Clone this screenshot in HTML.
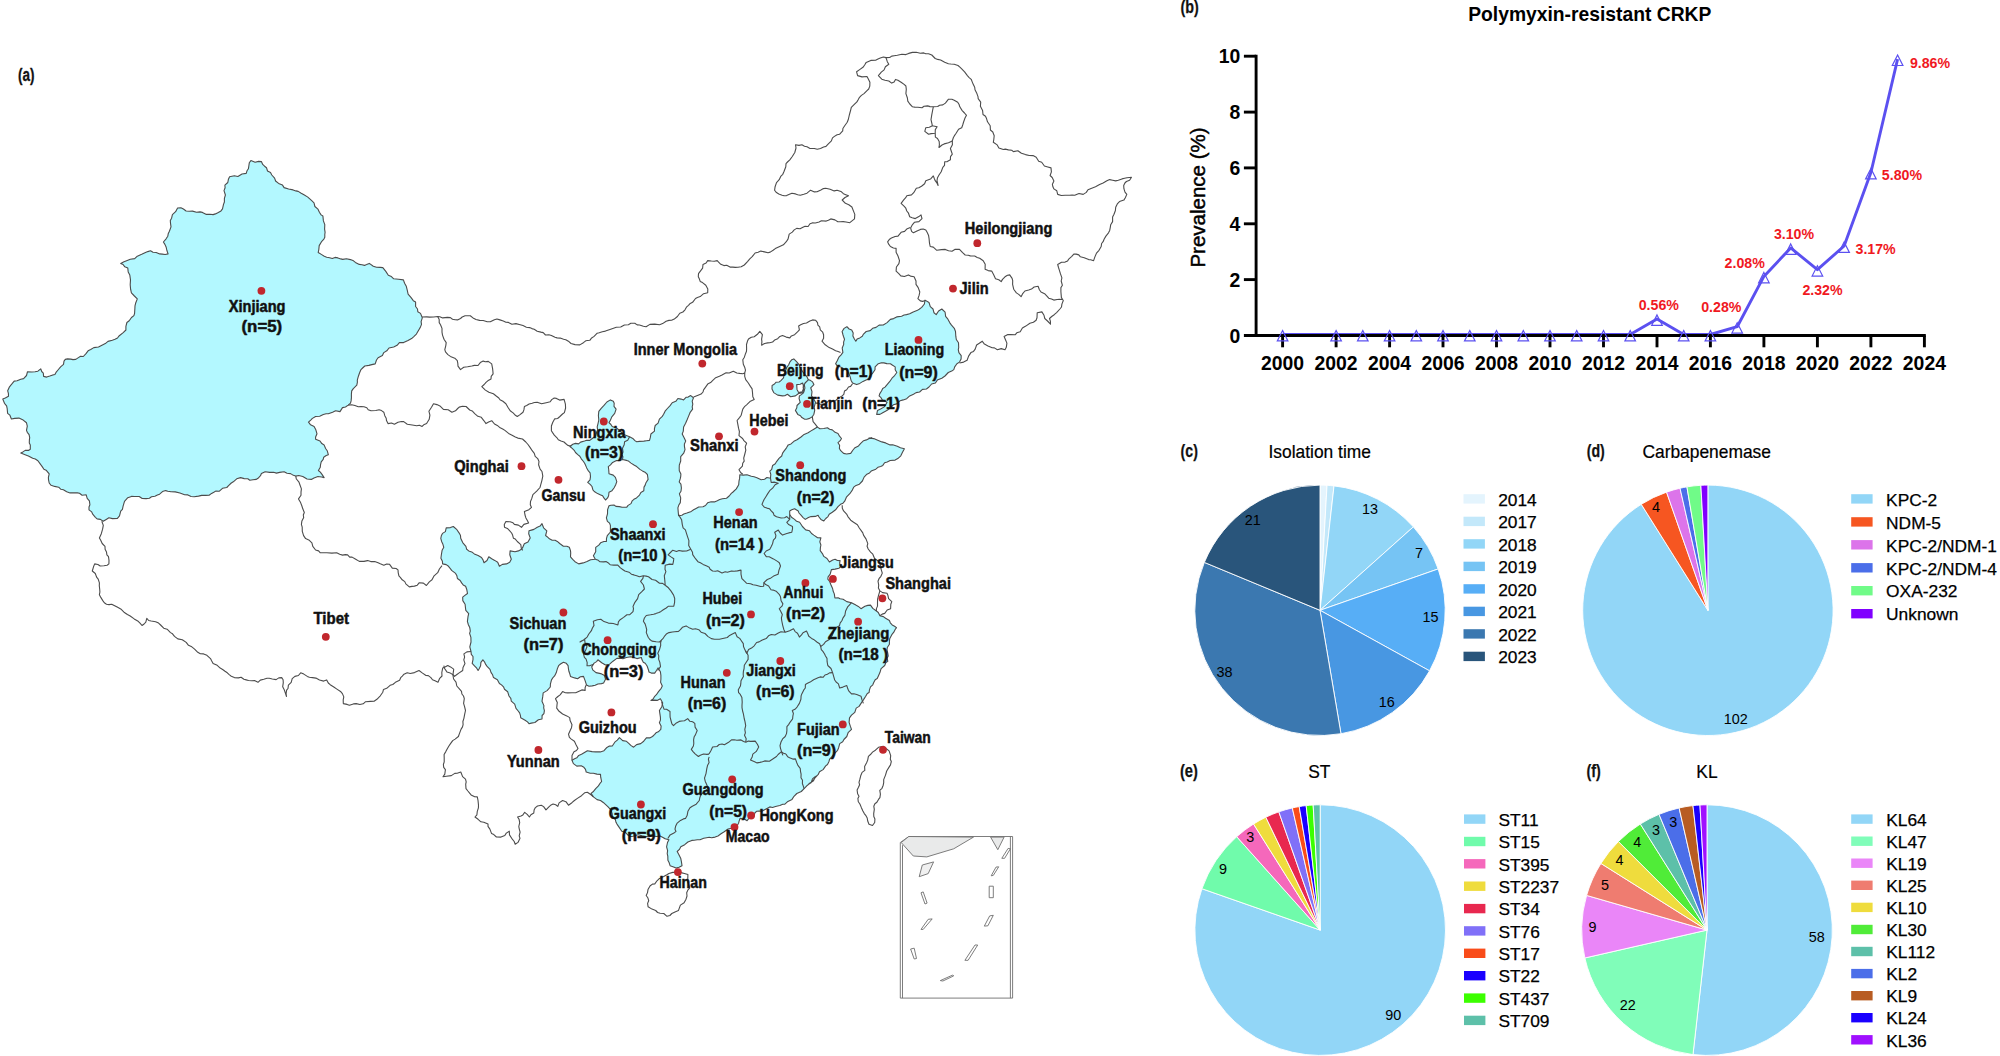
<!DOCTYPE html>
<html><head><meta charset="utf-8"><title>Polymyxin-resistant CRKP</title>
<style>html,body{margin:0;padding:0;background:#fff}svg{display:block}</style></head>
<body><svg width="2000" height="1056" viewBox="0 0 2000 1056">
<rect width="2000" height="1056" fill="#fff"/>
<g stroke="#4c4c4c" stroke-width="1.1" stroke-linejoin="round" fill="none">
<path d="M250.9 160.6 L255.1 162.2 L258.6 161.4 L261.4 161.6 L262.7 164.4 L264.6 166.2 L266.5 167.7 L267.5 171.0 L270.5 172.6 L271.8 175.0 L274.6 178.1 L275.6 181.0 L278.6 183.4 L282.5 185.1 L284.1 187.6 L288.6 189.0 L293.1 189.9 L295.9 190.9 L298.2 191.4 L301.2 193.3 L304.4 195.1 L307.8 197.1 L309.5 198.6 L311.7 200.6 L314.0 202.8 L314.9 206.5 L317.9 209.1 L319.4 212.2 L321.1 214.9 L322.9 216.0 L323.4 220.9 L324.8 224.6 L324.6 229.1 L325.1 232.3 L324.8 234.5 L324.8 237.3 L323.9 239.1 L321.8 241.3 L319.2 245.6 L318.8 249.6 L318.2 252.5 L321.7 254.6 L324.3 256.3 L326.7 257.2 L329.6 257.7 L332.3 258.5 L335.0 257.4 L337.9 257.9 L340.8 258.9 L342.7 259.4 L346.4 258.7 L350.4 259.6 L353.5 260.8 L355.4 262.4 L359.3 264.4 L362.0 264.8 L364.5 265.4 L366.6 264.6 L369.3 263.4 L373.3 266.2 L376.5 267.2 L380.1 267.4 L382.8 267.6 L385.8 271.4 L388.3 275.2 L391.4 276.6 L393.7 278.8 L398.6 279.3 L403.4 279.9 L404.6 283.3 L406.3 286.3 L407.3 290.4 L408.1 294.1 L411.1 297.7 L413.3 300.7 L415.6 302.0 L415.6 306.5 L417.5 309.0 L417.8 311.7 L420.5 313.4 L422.3 317.8 L421.1 321.6 L421.5 324.4 L420.3 327.4 L418.6 330.2 L416.4 334.1 L413.8 336.6 L411.6 338.6 L408.0 340.5 L403.6 342.6 L399.4 342.6 L397.1 345.3 L393.7 347.0 L389.0 348.0 L386.8 350.8 L383.8 352.6 L382.4 355.4 L378.1 357.7 L376.5 360.0 L375.2 363.9 L371.8 364.6 L368.9 365.4 L364.8 366.0 L362.6 368.0 L361.0 369.6 L359.6 372.7 L358.4 376.2 L357.3 380.2 L357.4 382.2 L356.8 385.2 L353.3 388.6 L351.7 390.9 L351.4 394.1 L351.4 397.9 L351.1 400.9 L350.5 403.2 L348.2 405.1 L345.5 407.0 L342.5 407.6 L340.0 411.6 L335.6 410.8 L332.6 412.2 L328.3 413.7 L326.1 413.8 L323.3 414.5 L319.7 416.2 L315.6 416.5 L312.4 418.4 L310.7 420.1 L308.5 422.2 L310.6 424.8 L314.1 426.4 L315.7 429.4 L317.0 433.8 L315.6 437.0 L315.6 439.2 L320.0 441.0 L321.8 443.6 L324.1 444.9 L325.6 448.5 L327.2 450.7 L328.4 454.8 L326.2 455.5 L323.7 457.2 L323.2 459.4 L321.2 461.9 L320.5 464.9 L320.3 467.3 L318.4 470.5 L320.3 472.1 L322.0 474.4 L324.1 477.6 L321.6 477.0 L317.9 476.5 L314.0 477.9 L311.3 479.4 L307.0 479.0 L302.8 476.5 L298.8 475.5 L295.7 476.1 L292.7 474.9 L290.5 473.6 L287.0 473.2 L284.1 471.7 L279.6 472.4 L276.5 473.1 L273.6 472.2 L269.7 472.4 L265.2 471.7 L261.4 473.5 L260.5 475.7 L258.0 478.3 L256.1 479.4 L253.0 479.7 L249.8 480.3 L247.8 478.8 L244.2 478.6 L240.6 477.6 L236.7 478.8 L233.3 481.8 L231.3 483.0 L228.8 485.4 L226.8 487.5 L222.5 488.3 L219.1 491.3 L215.7 491.1 L213.8 492.3 L211.6 493.4 L209.1 495.2 L205.6 495.4 L201.7 495.4 L198.5 496.1 L194.1 496.8 L191.1 496.5 L187.9 494.9 L184.6 494.7 L179.9 493.0 L175.2 491.9 L171.1 491.8 L167.8 491.2 L165.7 490.6 L162.5 491.6 L159.6 494.2 L157.4 495.1 L154.9 496.3 L151.5 496.8 L149.4 498.3 L146.1 498.6 L142.2 498.5 L139.2 496.5 L134.6 496.5 L131.4 496.4 L127.8 497.7 L124.5 501.3 L123.1 506.1 L122.4 509.3 L120.7 511.2 L119.5 515.9 L117.4 518.4 L112.5 518.6 L108.9 517.8 L106.6 519.2 L103.2 521.3 L100.4 519.4 L97.1 518.9 L95.4 517.3 L92.9 514.4 L91.7 511.9 L89.0 509.9 L89.0 507.0 L89.9 504.7 L89.4 500.9 L87.2 498.3 L86.2 494.8 L82.1 495.2 L79.5 493.3 L77.4 492.9 L73.7 492.8 L70.1 492.9 L66.7 491.7 L63.4 489.7 L60.9 489.3 L58.7 487.2 L54.6 486.4 L51.1 485.3 L49.2 483.0 L48.5 479.7 L48.4 477.3 L49.2 473.9 L46.1 470.2 L43.9 469.3 L42.2 466.6 L40.0 463.6 L37.9 460.7 L35.3 459.0 L32.7 458.3 L28.4 455.9 L25.1 454.7 L20.8 453.1 L22.9 451.9 L25.2 450.4 L28.4 450.4 L30.3 449.3 L30.3 445.0 L29.3 443.1 L29.4 439.8 L29.7 437.6 L29.1 434.7 L27.3 432.3 L26.5 430.4 L27.3 426.2 L26.5 422.8 L23.2 420.1 L18.9 418.1 L14.7 418.4 L11.4 419.0 L9.9 415.2 L7.6 413.3 L7.2 408.7 L6.6 405.8 L4.5 403.3 L2.8 399.1 L5.3 398.0 L8.5 396.3 L8.4 393.3 L7.7 390.8 L9.5 386.8 L11.7 384.2 L14.2 381.1 L17.1 380.8 L20.8 379.2 L23.6 378.6 L26.5 375.5 L27.5 371.7 L31.8 372.0 L35.0 371.7 L37.9 371.2 L40.7 368.8 L41.7 371.5 L43.3 373.1 L43.6 376.4 L46.7 377.1 L49.8 376.1 L52.9 374.9 L54.9 374.5 L56.0 372.4 L58.0 370.0 L60.6 366.9 L63.5 364.4 L64.0 361.1 L65.3 359.4 L67.5 358.9 L70.8 359.1 L73.0 359.6 L75.8 359.4 L78.4 357.6 L80.6 356.3 L83.3 356.5 L86.0 353.6 L88.1 350.8 L90.7 349.5 L93.8 347.6 L98.5 347.0 L102.9 344.8 L105.3 343.6 L108.0 341.4 L112.3 340.2 L115.0 339.3 L117.5 338.0 L119.3 335.7 L123.2 332.6 L125.9 330.0 L125.9 326.4 L126.9 322.5 L129.2 320.8 L131.5 317.5 L133.9 315.6 L134.6 313.3 L134.7 311.2 L134.9 308.3 L135.0 305.8 L135.6 303.3 L137.3 298.9 L134.4 296.0 L131.4 292.8 L130.6 289.2 L130.2 284.7 L130.5 279.9 L129.8 275.1 L128.2 272.0 L127.8 268.1 L124.8 266.8 L123.1 264.5 L120.7 263.4 L124.0 261.7 L126.6 260.7 L130.3 259.3 L134.7 258.6 L137.3 256.2 L141.7 254.3 L145.5 252.5 L147.8 251.6 L150.5 250.8 L153.0 252.3 L156.2 252.5 L159.7 253.9 L162.3 254.1 L165.2 254.5 L168.1 253.9 L166.9 250.5 L166.2 247.3 L164.9 244.4 L163.4 242.0 L166.1 238.8 L167.8 236.2 L168.2 233.8 L169.4 231.2 L171.0 226.9 L170.5 223.1 L170.3 220.5 L171.6 218.2 L172.4 214.6 L175.6 211.7 L177.6 208.0 L180.9 207.7 L183.4 209.0 L186.1 211.0 L189.4 211.3 L192.5 211.1 L196.5 212.3 L200.0 211.9 L202.4 212.4 L206.4 214.4 L209.8 214.2 L213.1 214.6 L215.4 213.9 L218.3 212.4 L221.0 210.9 L222.5 208.9 L223.5 204.4 L224.4 202.0 L224.4 198.4 L225.4 195.0 L224.0 190.6 L225.1 187.7 L224.9 185.2 L227.8 182.5 L228.4 179.3 L229.6 176.7 L234.3 175.8 L237.9 176.5 L242.0 174.0 L246.2 173.4 L247.0 170.8 L248.4 168.8 L248.9 165.5 L249.3 162.8 Z" fill="#b3f8ff"/>
<path d="M441.4 535.5 L442.5 533.4 L445.4 531.6 L446.2 527.9 L450.4 527.6 L453.3 526.5 L456.9 529.7 L459.2 533.1 L460.5 535.6 L460.7 538.2 L462.7 542.6 L465.9 546.4 L466.7 549.3 L468.7 550.9 L471.7 551.9 L474.3 553.9 L478.1 555.6 L481.5 557.5 L483.0 559.9 L484.0 562.7 L487.0 560.5 L488.8 556.8 L491.7 558.7 L494.7 560.4 L497.7 562.3 L499.4 566.3 L502.4 564.4 L506.5 563.9 L509.7 562.3 L511.3 559.2 L509.8 554.8 L510.1 550.9 L515.0 551.7 L518.4 550.9 L521.1 549.5 L522.6 547.7 L524.3 543.8 L528.0 542.0 L530.2 537.9 L528.7 533.7 L529.0 530.8 L531.4 530.1 L533.9 529.4 L537.3 527.2 L540.1 526.1 L542.0 523.7 L543.6 527.8 L546.8 530.8 L545.6 535.5 L547.9 537.4 L549.4 538.8 L552.2 540.3 L555.1 540.2 L557.3 541.4 L559.7 543.5 L563.4 546.2 L566.8 546.2 L569.3 547.3 L570.5 550.6 L570.7 552.9 L570.5 556.8 L572.7 559.3 L575.0 561.7 L578.7 563.9 L583.2 562.9 L587.0 561.6 L590.6 559.7 L595.3 559.2 L593.4 555.7 L595.7 551.8 L595.7 547.4 L598.8 545.1 L600.6 542.8 L603.9 541.5 L606.4 541.5 L606.5 538.3 L607.3 535.6 L610.4 532.0 L610.4 529.3 L610.4 525.4 L609.6 523.2 L607.4 521.3 L606.4 517.8 L607.5 513.9 L607.6 509.6 L609.0 505.7 L610.9 505.2 L614.0 505.0 L615.9 506.4 L619.3 506.6 L622.1 507.3 L626.8 507.1 L628.1 505.4 L631.0 503.6 L632.2 500.8 L633.9 499.3 L636.5 497.9 L639.5 495.1 L640.9 492.4 L643.8 490.8 L644.0 487.1 L645.2 485.1 L646.0 482.7 L648.1 479.4 L647.4 474.5 L645.0 472.2 L642.4 470.9 L639.9 469.4 L636.7 466.6 L634.4 465.3 L631.0 463.1 L628.5 461.1 L626.5 460.4 L622.5 459.5 L619.6 460.5 L616.5 460.6 L612.6 462.4 L610.5 464.9 L608.3 466.6 L608.7 469.5 L609.0 473.8 L613.2 475.1 L615.4 477.3 L616.8 481.6 L615.6 485.0 L614.0 488.0 L612.0 490.7 L609.0 492.2 L608.6 495.8 L607.6 497.9 L605.5 500.0 L603.9 497.9 L602.6 495.8 L600.7 494.9 L597.6 493.6 L594.3 491.5 L592.9 489.8 L592.0 486.5 L590.4 484.6 L587.7 482.3 L590.0 479.9 L590.5 476.6 L590.1 472.8 L588.4 470.9 L586.7 467.9 L584.9 463.8 L583.5 461.5 L581.3 458.8 L579.8 456.2 L577.8 454.6 L575.5 452.5 L574.2 450.3 L572.2 448.4 L569.9 446.5 L572.8 444.2 L575.5 443.4 L578.5 443.9 L580.6 442.1 L584.5 441.0 L586.7 440.3 L589.8 440.4 L592.6 438.2 L595.5 436.1 L596.7 432.0 L597.6 429.9 L597.2 426.9 L598.0 423.6 L598.8 420.0 L598.4 415.5 L598.8 411.4 L601.2 408.4 L604.0 405.4 L606.9 402.0 L610.4 399.9 L613.3 401.3 L614.2 403.3 L614.0 406.3 L616.1 409.1 L614.7 413.4 L611.8 416.9 L610.4 420.3 L609.0 422.6 L610.9 424.5 L612.2 426.5 L616.8 428.3 L620.5 431.1 L622.5 433.3 L625.0 435.1 L629.6 436.8 L632.8 438.4 L634.9 440.6 L636.7 441.8 L639.4 441.4 L643.8 441.1 L646.5 440.7 L649.5 440.4 L650.3 437.7 L650.9 434.0 L654.5 431.1 L654.4 428.8 L655.2 425.5 L658.1 423.1 L659.4 419.1 L662.3 416.4 L663.6 414.3 L665.1 411.2 L667.4 408.5 L670.1 405.6 L672.2 402.7 L675.8 401.3 L677.9 398.5 L681.1 399.1 L683.6 399.9 L686.0 397.3 L688.1 397.1 L690.7 395.6 L693.5 397.8 L692.2 401.1 L692.8 404.1 L692.2 406.8 L692.6 409.2 L690.0 412.7 L688.4 416.6 L687.1 419.8 L685.6 423.2 L683.6 426.9 L683.3 431.1 L682.2 434.0 L684.0 437.6 L685.7 441.1 L684.4 444.0 L684.4 446.2 L685.0 449.6 L683.7 453.2 L680.7 456.7 L680.7 461.0 L679.3 465.2 L679.2 468.6 L679.3 470.8 L680.9 474.0 L680.7 476.6 L680.2 478.9 L679.2 482.0 L680.9 484.1 L681.4 488.0 L681.0 491.3 L679.4 493.8 L680.7 497.9 L680.3 502.6 L678.7 505.3 L677.9 507.8 L678.2 511.6 L678.6 515.7 L681.9 515.2 L683.8 514.1 L686.9 513.1 L691.3 511.4 L693.6 509.8 L695.6 508.7 L698.7 507.0 L703.0 506.7 L705.5 505.5 L707.6 502.8 L711.1 501.7 L714.4 501.9 L717.3 500.7 L719.7 499.6 L722.4 498.7 L726.5 498.2 L729.2 496.0 L731.3 493.4 L733.0 492.0 L736.3 488.9 L738.7 484.8 L739.0 481.1 L739.6 478.4 L739.8 474.7 L743.2 475.1 L747.0 474.7 L751.3 476.3 L754.1 476.8 L756.9 477.8 L761.2 479.7 L764.6 479.2 L766.9 477.5 L770.5 478.2 L770.8 474.3 L769.8 471.1 L771.7 469.3 L772.6 465.5 L775.3 463.7 L776.4 461.8 L779.0 458.4 L781.7 456.0 L782.6 453.1 L784.0 451.2 L786.5 447.8 L788.2 444.9 L791.0 443.9 L793.9 441.3 L797.0 439.8 L801.0 437.0 L804.1 434.4 L808.1 432.8 L811.0 430.9 L813.8 429.2 L817.4 427.1 L819.9 428.7 L823.8 428.5 L827.4 427.7 L829.6 429.3 L832.3 429.9 L835.1 432.3 L838.0 433.5 L839.5 436.2 L841.5 438.5 L840.2 440.7 L838.0 442.7 L839.6 445.3 L839.4 448.4 L840.7 450.7 L843.6 453.4 L846.6 454.0 L850.7 453.4 L853.0 450.0 L855.0 447.7 L858.5 445.9 L860.7 443.4 L863.6 440.7 L866.4 439.9 L868.7 438.8 L872.0 437.8 L868.9 438.0 L873.7 438.6 L878.3 440.4 L881.9 441.9 L885.6 442.9 L887.8 443.9 L890.1 444.9 L892.7 444.8 L897.3 446.3 L900.4 447.7 L904.4 448.7 L902.5 452.2 L900.8 455.8 L897.8 458.6 L895.1 460.1 L890.2 460.5 L887.2 461.9 L884.6 462.8 L882.8 465.4 L880.7 466.4 L877.9 467.3 L875.8 469.2 L871.2 471.1 L869.5 472.9 L866.9 474.2 L864.1 477.1 L862.4 481.0 L859.4 484.2 L855.4 485.8 L853.7 487.2 L852.3 490.1 L849.8 493.7 L846.4 497.2 L844.7 501.2 L843.0 503.2 L840.5 504.3 L838.0 506.6 L835.6 509.8 L832.3 512.3 L829.2 514.3 L828.0 516.6 L825.8 518.5 L823.8 520.9 L820.9 519.4 L819.0 517.0 L818.1 515.2 L815.3 516.4 L811.0 516.6 L808.4 517.5 L805.3 519.4 L803.1 517.6 L801.0 515.2 L799.0 513.0 L798.2 510.9 L794.6 508.8 L791.7 509.8 L789.7 510.9 L789.7 514.5 L791.5 517.3 L794.6 519.4 L796.6 521.3 L799.6 522.3 L801.3 524.8 L802.4 526.5 L805.7 529.9 L809.5 530.8 L811.6 533.5 L813.8 535.1 L817.6 537.7 L820.9 537.9 L819.8 541.9 L820.9 545.0 L820.4 547.5 L820.2 550.7 L822.4 553.6 L823.8 556.4 L827.0 558.5 L829.4 562.0 L832.7 560.0 L835.1 559.2 L837.4 560.5 L840.1 560.6 L839.6 563.1 L840.8 566.3 L838.9 568.3 L835.1 569.1 L831.4 569.6 L830.2 574.2 L828.1 576.8 L827.8 579.1 L829.7 581.5 L830.7 584.3 L832.6 588.5 L833.1 591.0 L834.3 593.9 L834.9 598.0 L838.1 597.8 L840.1 598.8 L843.1 599.3 L846.8 601.6 L851.5 602.7 L855.8 605.1 L858.3 606.4 L861.0 608.7 L864.9 606.3 L867.8 605.4 L870.5 605.1 L872.8 608.4 L876.4 611.0 L878.3 612.5 L879.9 615.8 L883.4 616.6 L885.6 618.3 L889.4 620.5 L890.3 622.8 L892.2 624.9 L894.6 626.2 L896.5 627.6 L895.0 629.7 L893.8 632.2 L891.8 634.7 L889.7 638.8 L889.4 641.6 L889.4 644.2 L887.3 647.5 L887.0 650.0 L887.7 652.9 L888.2 656.0 L887.2 658.1 L887.8 661.3 L885.9 662.6 L884.7 665.5 L881.1 668.7 L879.9 672.6 L878.5 675.7 L877.2 678.5 L875.2 679.7 L873.6 682.8 L872.8 684.8 L870.5 686.8 L869.4 690.2 L869.1 692.5 L867.3 693.5 L865.7 696.2 L863.7 699.4 L861.0 703.4 L859.1 706.4 L856.2 708.1 L854.8 712.3 L851.5 715.2 L849.5 717.9 L849.1 722.3 L850.4 726.4 L851.5 729.4 L848.1 732.7 L846.8 736.5 L843.9 739.5 L842.7 741.7 L839.7 743.6 L838.6 747.9 L837.6 750.3 L834.9 753.1 L831.8 756.8 L829.6 759.1 L829.0 761.4 L827.5 764.5 L825.7 765.9 L823.1 769.6 L819.5 771.8 L818.1 774.7 L816.0 776.7 L813.1 780.5 L811.2 782.2 L808.9 783.8 L811.6 782.1 L813.5 780.8 L814.8 778.1 L816.9 775.8 L814.8 776.9 L812.5 778.9 L811.0 782.9 L809.3 783.9 L806.8 785.8 L803.9 788.8 L801.3 791.5 L796.8 793.5 L794.0 796.3 L792.0 799.4 L787.9 801.4 L784.9 804.2 L782.8 804.3 L779.8 805.5 L775.5 806.5 L772.5 807.5 L769.8 806.9 L766.0 808.9 L762.2 811.1 L759.2 811.1 L756.5 811.3 L754.8 813.0 L754.2 816.0 L751.9 817.3 L749.2 818.0 L747.1 820.7 L744.3 819.0 L740.0 818.4 L739.1 821.2 L738.6 823.2 L736.4 826.7 L732.5 828.0 L728.1 829.0 L724.2 831.8 L721.0 833.8 L718.0 836.0 L715.1 837.1 L711.6 837.8 L709.2 837.3 L706.6 837.7 L703.7 838.3 L700.0 839.7 L697.3 839.7 L694.2 840.2 L691.8 840.4 L687.9 842.0 L684.7 844.7 L680.8 846.8 L679.4 849.4 L677.2 851.5 L678.8 854.5 L680.8 858.6 L681.4 861.6 L682.0 865.7 L679.0 867.3 L676.0 868.1 L673.6 866.9 L670.1 865.7 L669.2 862.8 L667.9 860.3 L667.8 856.2 L667.2 853.7 L667.6 850.6 L666.6 846.8 L667.5 842.5 L668.9 839.7 L664.2 838.5 L664.4 838.3 L660.1 836.0 L656.9 836.5 L652.5 836.0 L648.9 836.6 L645.9 836.6 L642.2 835.9 L638.3 834.8 L636.1 835.2 L633.1 836.2 L630.6 836.5 L628.2 835.3 L625.4 832.3 L621.8 831.2 L619.2 827.4 L617.0 824.1 L616.0 822.3 L615.3 819.4 L612.3 817.0 L612.2 813.9 L610.9 809.9 L607.6 806.4 L605.4 804.3 L603.6 802.7 L600.5 800.5 L597.1 799.6 L593.4 796.9 L591.0 793.4 L593.1 791.8 L595.7 788.6 L598.4 785.9 L599.8 783.7 L601.6 781.5 L600.7 777.2 L600.5 774.4 L596.9 774.1 L593.4 773.2 L590.2 773.3 L586.2 772.0 L585.5 769.4 L583.9 767.3 L581.2 765.8 L576.8 766.1 L573.4 763.6 L572.0 760.2 L574.6 758.7 L576.8 757.8 L578.7 755.4 L581.5 754.3 L584.5 752.5 L587.4 750.7 L592.1 751.6 L595.7 751.9 L600.3 751.9 L604.0 750.7 L606.9 747.4 L609.4 746.1 L612.3 746.0 L614.8 742.2 L617.3 740.1 L619.4 737.7 L622.7 740.6 L626.5 741.3 L629.3 743.8 L630.8 745.4 L633.6 747.2 L636.6 744.6 L640.7 743.6 L643.7 741.2 L646.6 737.7 L649.7 737.9 L652.5 736.5 L654.7 734.4 L656.0 732.8 L658.3 731.8 L660.8 729.4 L661.1 726.1 L659.4 722.8 L660.5 719.9 L660.4 717.1 L659.8 713.2 L659.4 710.5 L661.8 706.7 L662.7 702.9 L660.4 698.7 L657.1 700.4 L654.7 700.1 L650.9 700.5 L653.1 699.0 L654.7 696.3 L656.4 694.7 L658.5 691.6 L661.2 688.3 L662.3 685.9 L660.6 682.2 L660.9 679.2 L660.9 675.4 L660.4 671.7 L658.0 667.9 L656.5 670.5 L654.7 673.1 L651.3 673.1 L649.0 672.1 L648.4 669.7 L647.1 666.0 L645.2 663.3 L643.3 662.2 L642.0 659.8 L641.4 657.5 L636.9 658.6 L633.9 657.5 L630.6 656.8 L626.3 657.5 L623.0 658.7 L620.7 658.3 L616.8 658.4 L613.0 661.2 L609.6 664.2 L605.5 665.0 L601.7 662.7 L597.9 659.8 L596.6 661.6 L594.1 663.1 L591.7 666.9 L592.7 669.8 L596.0 672.6 L600.7 673.6 L604.5 675.5 L605.5 679.2 L603.6 683.0 L601.5 683.6 L597.9 684.0 L595.2 685.3 L592.2 685.9 L589.0 686.2 L586.5 684.9 L585.1 680.6 L583.5 676.4 L580.4 676.7 L577.6 678.7 L574.6 677.9 L570.5 676.4 L569.6 673.2 L568.9 671.3 L568.4 668.5 L568.1 665.7 L566.3 663.3 L563.4 662.2 L560.5 664.0 L558.6 665.7 L557.4 668.6 L556.2 672.8 L554.6 675.9 L553.2 677.3 L551.5 679.9 L550.4 684.2 L550.3 687.0 L547.1 690.6 L543.2 692.9 L542.7 696.9 L542.0 701.2 L543.9 705.6 L543.7 707.8 L544.4 710.7 L543.9 713.6 L542.1 715.5 L542.0 719.0 L538.4 719.8 L534.9 722.5 L531.3 723.1 L529.0 723.7 L527.5 721.9 L525.1 720.2 L520.7 717.8 L520.4 715.3 L519.6 712.8 L517.8 710.5 L516.0 708.3 L514.7 704.1 L511.3 701.2 L510.8 698.3 L509.0 696.0 L507.7 691.8 L504.5 689.2 L503.5 686.8 L501.5 684.9 L499.4 683.5 L497.4 679.7 L493.5 677.6 L492.6 674.8 L491.1 672.6 L490.0 669.3 L487.3 666.7 L485.7 664.4 L484.8 662.4 L482.9 659.8 L480.9 662.4 L480.6 665.7 L479.3 668.5 L478.1 670.5 L476.7 668.2 L474.7 666.1 L472.2 663.4 L473.0 659.7 L473.0 656.5 L471.3 654.4 L471.0 651.5 L469.8 646.9 L471.0 642.0 L470.9 637.4 L469.6 633.4 L470.3 631.1 L469.8 627.8 L468.3 624.5 L467.4 621.4 L468.0 616.7 L468.7 613.6 L465.8 610.4 L465.5 608.0 L465.1 604.2 L462.8 600.6 L462.7 597.1 L464.9 595.4 L467.5 593.5 L466.7 589.2 L465.6 586.3 L463.2 584.9 L461.6 582.9 L460.2 580.5 L457.4 578.5 L456.9 575.8 L455.6 573.4 L451.6 570.4 L450.1 568.3 L448.5 566.3 L446.2 564.6 L442.6 563.9 L442.4 561.2 L440.9 558.2 L441.4 554.5 L442.1 550.3 L443.8 547.3 L442.7 543.7 L441.6 541.4 L440.8 538.4 Z" fill="#b3f8ff"/>
<path d="M835.6 363.7 L837.1 360.9 L838.9 357.2 L840.9 355.1 L842.9 352.4 L842.2 348.0 L843.7 344.4 L843.6 342.1 L844.5 339.3 L843.5 336.5 L842.9 334.5 L842.1 331.5 L844.1 328.4 L846.9 326.7 L849.1 329.0 L851.7 329.9 L853.2 333.0 L852.9 335.9 L854.4 339.0 L855.8 341.2 L857.1 339.1 L859.8 337.9 L862.3 336.2 L863.5 334.1 L866.2 331.5 L870.2 330.6 L872.6 328.3 L876.0 327.4 L879.1 325.1 L883.3 325.0 L887.1 322.6 L890.4 319.4 L893.6 318.6 L896.7 316.9 L901.6 316.2 L904.1 315.0 L906.5 314.6 L909.7 313.8 L913.2 311.9 L916.9 310.6 L919.2 309.2 L921.7 307.4 L924.4 304.0 L925.0 300.1 L929.0 302.5 L930.3 306.6 L933.0 309.0 L934.0 312.8 L936.2 314.6 L938.6 311.0 L941.8 309.0 L945.1 312.2 L945.6 316.3 L947.5 318.6 L949.7 322.6 L951.5 325.1 L954.3 328.3 L955.5 331.5 L955.8 336.2 L956.3 339.5 L958.5 342.8 L958.7 347.6 L958.3 349.7 L958.9 352.7 L961.2 355.6 L961.1 358.9 L959.5 362.1 L956.9 363.8 L954.7 366.9 L953.8 369.6 L951.7 371.1 L948.3 372.5 L945.0 376.0 L941.8 378.2 L937.3 380.1 L935.4 383.0 L931.6 384.0 L929.0 387.0 L926.4 389.0 L922.5 389.4 L919.6 392.0 L916.1 392.6 L913.5 394.2 L909.7 395.9 L906.7 398.7 L903.2 399.9 L900.2 400.7 L896.8 403.9 L893.3 404.8 L890.4 407.9 L887.6 410.1 L885.5 411.2 L882.7 412.7 L879.9 414.4 L876.7 414.4 L877.5 410.4 L881.0 408.8 L883.9 407.1 L885.7 404.8 L887.1 402.3 L884.2 400.8 L882.3 399.9 L881.0 397.7 L879.1 395.9 L879.8 393.6 L881.5 391.0 L882.7 388.5 L885.0 387.1 L887.1 384.6 L889.6 381.7 L892.0 378.2 L894.1 376.2 L896.8 372.5 L895.2 369.7 L895.2 366.9 L892.6 365.3 L890.4 363.7 L886.8 363.6 L883.9 362.9 L880.8 362.9 L878.3 363.7 L875.1 366.9 L875.0 369.7 L872.6 373.3 L870.1 375.5 L869.4 378.2 L866.6 379.7 L863.0 381.4 L859.8 383.4 L856.6 384.6 L852.5 383.0 L851.0 380.2 L850.1 376.6 L848.8 373.5 L846.9 370.1 L843.9 368.9 L840.5 366.9 L837.2 365.8 Z" fill="#b3f8ff"/>
<path d="M806.7 379.0 L810.7 380.6 L812.6 381.9 L813.9 384.6 L810.7 387.8 L812.0 391.6 L811.5 395.9 L813.3 398.3 L815.5 402.3 L814.2 407.1 L814.7 410.4 L813.9 414.2 L812.3 416.8 L809.6 418.4 L806.7 419.2 L804.4 419.1 L801.8 417.6 L800.5 415.7 L797.8 414.4 L795.4 410.4 L796.8 407.7 L797.0 405.5 L800.2 402.3 L799.1 398.7 L799.4 395.9 L801.4 394.6 L803.5 392.6 L804.9 388.2 L804.3 384.6 L805.0 381.0 Z" fill="#b3f8ff"/>
<path d="M772.1 385.4 L774.5 384.0 L776.1 382.2 L779.1 382.0 L780.9 380.6 L783.5 377.9 L784.1 374.9 L785.0 372.1 L786.6 367.7 L788.8 364.5 L789.8 362.1 L791.8 359.7 L793.8 358.9 L797.0 362.1 L799.0 364.6 L800.2 367.7 L802.5 371.5 L805.1 374.9 L806.8 376.5 L808.3 379.8 L805.1 383.0 L803.1 387.1 L803.9 390.1 L803.5 392.6 L798.6 393.5 L795.4 395.9 L790.6 396.7 L787.4 394.3 L784.8 395.8 L782.5 395.9 L777.7 395.1 L773.7 392.6 L772.0 389.0 Z M796.7 384.6 L800.2 384.3 L802.6 383.0 L803.5 386.2 L803.3 389.1 L802.2 391.8 L798.6 392.6 L797.0 389.4 Z" fill="#b3f8ff" fill-rule="evenodd"/>
<path d="M101.8 521.3 L103.3 525.4 L102.6 529.2 L101.3 533.7 L99.4 537.9 L100.6 540.0 L102.2 543.5 L105.0 546.4 L105.1 549.3 L106.5 552.1 L106.9 554.8 L108.5 556.7 L109.0 560.4 L108.9 563.9 L107.1 565.3 L103.9 565.7 L100.2 566.0 L97.9 564.5 L94.7 563.9 L93.5 566.8 L92.3 571.0 L95.3 573.5 L96.6 577.1 L98.2 579.1 L99.4 582.9 L99.3 585.8 L99.7 589.3 L99.9 592.0 L99.4 594.7 L100.8 597.4 L102.8 600.6 L104.3 602.8 L106.5 604.2 L109.0 604.6 L111.7 604.2 L114.7 605.8 L117.2 607.1 L120.7 608.9 L124.0 612.2 L127.4 614.5 L130.2 616.0 L134.2 618.9 L137.7 620.9 L140.0 623.2 L142.0 625.5 L144.1 624.0 L145.8 622.1 L146.8 618.4 L148.7 620.5 L151.2 621.0 L155.6 621.7 L158.6 623.1 L160.6 625.0 L163.7 628.2 L167.1 629.2 L170.5 632.6 L172.5 633.8 L174.5 636.4 L177.8 638.9 L182.3 639.7 L186.2 642.4 L188.5 645.3 L191.8 646.8 L194.6 649.1 L197.8 652.3 L200.3 653.7 L203.6 653.9 L206.9 655.3 L210.5 658.6 L211.6 660.7 L213.1 663.4 L217.2 665.3 L220.2 668.1 L223.0 669.7 L225.0 671.2 L227.3 672.8 L229.2 674.6 L231.3 676.2 L234.4 677.6 L238.4 677.9 L241.1 677.2 L243.9 679.3 L246.2 679.9 L248.5 680.5 L251.9 680.7 L254.5 680.5 L258.0 682.3 L260.3 680.1 L263.8 679.3 L267.0 678.3 L269.2 678.3 L272.3 679.0 L276.1 679.6 L278.8 677.9 L281.7 677.6 L283.1 679.8 L283.3 682.7 L282.7 686.7 L284.1 689.4 L285.3 692.9 L286.5 696.5 L286.1 693.6 L286.6 690.2 L288.0 688.5 L288.4 685.1 L291.2 682.3 L292.2 678.7 L294.9 676.4 L298.4 675.5 L300.7 672.8 L303.8 674.1 L307.3 676.4 L309.4 677.3 L312.5 677.6 L315.9 678.1 L319.5 680.0 L323.7 681.1 L326.7 679.9 L328.3 683.0 L330.2 684.7 L333.8 687.0 L336.9 689.1 L340.9 691.8 L342.4 693.6 L343.8 696.9 L343.2 699.8 L343.3 703.6 L347.1 704.4 L349.4 705.3 L353.4 703.9 L356.2 703.6 L359.8 704.5 L363.2 703.8 L365.6 701.7 L370.5 701.4 L374.1 701.2 L376.9 699.3 L380.3 695.8 L382.8 692.2 L383.5 689.4 L386.7 688.3 L390.1 685.3 L392.8 684.5 L395.4 682.3 L399.6 680.3 L400.7 677.7 L402.3 676.1 L404.0 674.2 L407.2 672.8 L410.2 673.5 L414.5 672.6 L419.0 670.5 L422.2 672.9 L426.0 675.5 L428.3 675.6 L430.9 677.6 L432.5 679.8 L435.0 680.8 L438.0 682.3 L439.7 678.3 L442.0 676.0 L441.8 672.5 L442.7 668.1 L445.0 667.1 L447.8 665.5 L450.5 666.9 L453.7 669.1 L453.4 671.7 L452.9 674.8 L453.6 679.0 L456.0 682.1 L456.8 686.0 L459.6 689.2 L461.5 691.3 L461.9 694.0 L463.5 696.0 L464.3 698.7 L463.6 703.3 L464.5 706.3 L465.5 710.5 L464.7 714.1 L463.9 718.3 L462.9 721.5 L463.1 724.7 L462.5 726.9 L461.0 729.4 L459.5 733.4 L458.4 736.5 L455.1 739.1 L452.7 740.6 L450.7 743.4 L448.9 746.0 L447.3 748.7 L445.8 751.6 L444.1 754.5 L444.2 757.8 L444.2 761.9 L443.4 764.5 L443.7 767.4 L445.4 769.7 L444.8 774.1 L443.0 776.8 L446.4 776.2 L451.3 775.6 L454.8 773.4 L457.2 773.2 L460.8 772.0 L462.6 776.6 L465.5 779.1 L466.2 781.8 L465.7 784.2 L466.0 788.6 L467.9 791.0 L469.4 792.8 L471.1 794.9 L474.7 796.8 L477.3 796.9 L478.0 800.3 L478.5 805.2 L478.4 807.9 L477.3 811.3 L476.9 814.8 L475.0 817.0 L478.1 819.3 L480.9 821.8 L483.8 822.3 L488.0 824.1 L488.0 826.4 L489.9 829.1 L491.6 833.6 L493.8 834.6 L496.4 837.0 L501.0 837.1 L504.8 835.5 L506.3 833.1 L509.3 831.2 L509.5 834.9 L511.7 838.3 L514.2 841.5 L515.2 844.3 L518.0 842.4 L520.0 838.3 L519.2 835.8 L520.1 832.1 L519.3 829.1 L518.8 826.5 L519.7 822.6 L519.1 819.4 L517.6 817.0 L521.0 815.9 L522.9 814.9 L524.7 812.3 L527.2 814.4 L529.4 817.0 L530.9 814.7 L533.8 813.0 L534.1 810.1 L535.4 807.6 L537.5 806.0 L541.3 805.2 L543.6 806.6 L546.0 809.9 L548.9 806.8 L551.1 804.9 L553.1 804.0 L555.7 804.7 L557.8 806.4 L559.1 802.9 L562.6 800.5 L565.9 801.7 L568.5 805.2 L571.9 802.7 L574.4 800.5 L577.4 798.4 L581.5 795.7 L584.6 792.8 L587.4 792.2 L591.0 794.8 L593.4 796.9"/>
<path d="M443.8 665.7 L444.6 668.5 L446.9 671.9 L450.3 673.1 L453.2 674.8 L454.5 676.4 L456.6 674.8 L458.8 673.1 L462.7 670.5 L463.0 667.5 L465.0 663.6 L463.8 659.9 L464.6 657.1 L463.9 653.9 L466.9 651.9 L471.0 651.5"/>
<path d="M295.7 476.1 L296.4 479.0 L299.0 482.2 L299.9 484.7 L301.4 488.9 L301.0 492.1 L301.0 495.2 L298.5 498.9 L300.6 502.6 L301.9 506.0 L302.8 508.8 L304.3 512.5 L303.3 515.0 L303.7 517.6 L301.9 520.9 L301.4 524.4 L302.2 527.2 L302.3 531.4 L303.6 535.6 L305.6 538.6 L308.8 539.9 L311.9 542.8 L312.8 546.4 L315.6 550.0 L318.6 550.9 L320.1 552.6 L323.3 552.7 L326.9 552.8 L331.9 553.1 L336.7 552.8 L339.7 554.3 L342.6 555.1 L345.3 554.6 L347.6 554.9 L349.7 557.1 L352.1 557.1 L355.3 559.0 L359.3 561.4 L363.9 561.4 L367.6 560.6 L370.8 561.6 L374.7 561.5 L378.1 562.8 L380.3 563.8 L383.8 565.2 L386.7 564.0 L389.4 564.2 L392.3 568.1 L396.1 568.5 L398.0 569.9 L398.2 572.6 L398.9 575.9 L400.3 577.3 L402.2 579.8 L404.8 581.6 L405.8 583.9 L409.3 586.9 L412.0 586.4 L414.4 586.1 L417.3 585.2 L419.3 582.7 L423.4 583.1 L426.4 585.5 L429.3 581.9 L432.0 579.8 L434.1 575.8 L437.7 572.7 L439.4 569.0 L442.0 565.6"/>
<path d="M348.2 405.1 L351.7 404.7 L354.9 405.5 L358.3 406.7 L361.0 406.5 L364.0 406.8 L366.8 407.7 L368.2 409.7 L371.0 410.8 L375.8 410.5 L379.1 409.8 L381.5 410.6 L383.8 412.2 L384.8 415.7 L386.2 418.3 L386.5 420.6 L388.0 423.6 L391.5 423.0 L394.4 424.2 L398.0 422.2 L401.4 421.5 L403.7 421.6 L407.3 424.3 L412.2 425.0 L416.7 425.8 L419.4 425.3 L422.1 426.4 L423.7 424.8 L426.6 423.5 L429.2 419.3 L429.9 415.2 L428.9 411.2 L431.5 407.2 L433.5 403.7 L436.9 404.6 L439.9 405.9 L443.4 409.4 L448.2 409.8 L451.9 412.2 L455.5 410.8 L457.7 408.5 L459.2 407.1 L462.5 406.3 L466.1 406.5 L469.7 410.0 L472.2 410.9 L474.7 413.6 L477.9 416.3 L481.3 417.3 L484.0 420.8 L486.0 423.6 L488.6 422.1 L491.7 420.7 L494.5 424.0 L497.3 425.4 L500.2 427.8 L502.7 429.0 L504.9 430.4 L508.6 433.4 L511.6 434.9 L515.3 436.9 L517.8 438.1 L522.5 439.0 L525.8 442.0 L528.0 444.5 L530.2 447.6 L532.2 450.7 L534.3 453.4 L535.2 456.4 L537.7 458.6 L539.0 461.4 L538.6 464.8 L540.1 469.1 L542.0 471.5 L542.8 476.1 L541.8 480.8 L540.7 484.9 L540.0 487.5 L536.7 491.1 L534.8 492.9 L532.9 494.6 L531.8 498.4 L530.5 501.5 L530.3 504.8 L531.5 507.4 L528.9 509.7 L524.4 511.6 L525.0 515.0 L525.9 517.9 L527.5 520.8 L528.6 523.0 L523.9 524.4 L521.5 527.3 L518.4 525.1 L514.4 524.4 L513.0 522.8 L510.1 521.8 L505.9 521.6 L504.3 524.6 L504.5 527.3 L507.4 528.4 L509.3 530.3 L511.6 533.0 L512.6 535.1 L513.4 538.2 L515.3 539.1 L517.3 541.5 L520.8 544.6 L521.3 548.4 L522.7 550.3"/>
<path d="M422.1 317.0 L426.7 316.9 L429.7 317.1 L433.7 317.0 L437.7 316.5 L439.8 316.7 L442.7 317.9 L447.4 317.4 L450.4 317.6 L452.5 319.2 L455.2 319.8 L457.5 319.9 L460.5 318.5 L462.2 317.0 L465.1 315.8 L467.1 315.7 L470.3 315.8 L473.0 317.9 L476.0 319.5 L479.6 320.4 L483.2 320.5 L487.2 321.7 L490.3 321.8 L494.4 319.7 L496.9 319.0 L499.9 319.9 L503.3 321.0 L505.9 322.2 L508.4 322.4 L511.9 324.2 L516.0 323.6 L520.2 324.7 L523.0 325.6 L526.4 327.2 L529.6 327.6 L531.9 328.6 L534.2 329.3 L537.2 331.2 L540.9 332.1 L543.2 332.6 L545.5 335.0 L548.9 334.7 L551.4 335.5 L555.0 337.3 L557.1 337.9 L560.2 338.1 L563.6 339.2 L565.8 339.7 L568.4 341.2 L571.0 343.5 L575.0 344.6 L579.8 344.9 L583.4 342.7 L585.7 340.8 L589.8 340.3 L591.3 338.3 L594.1 336.4 L597.2 333.2 L599.2 332.8 L602.3 331.8 L605.4 331.1 L609.2 329.7 L613.5 328.2 L616.3 327.3 L620.7 327.0 L624.4 325.0 L628.4 324.7 L630.8 323.3 L634.8 323.2 L637.2 324.9 L639.5 325.0 L643.4 326.3 L646.1 326.8 L649.9 324.4 L654.7 324.1 L659.6 324.7 L662.6 323.6 L666.1 321.2 L668.9 320.4 L671.6 320.3 L674.3 319.1 L677.4 316.5 L679.8 313.2 L682.9 312.0 L685.0 309.8 L686.7 306.8 L688.5 305.3 L689.8 303.8 L692.6 302.3 L695.5 298.5 L697.4 297.5 L700.2 296.6 L703.6 293.7 L707.7 292.8 L707.8 289.0 L705.8 285.2 L702.5 282.6 L700.2 281.4 L699.3 278.8 L698.3 276.7 L698.5 273.6 L701.1 270.1 L702.6 268.2 L703.0 264.4 L706.1 263.0 L707.7 260.6 L711.4 261.0 L714.3 261.2 L717.2 260.6 L718.6 262.1 L720.8 264.3 L723.9 265.6 L726.7 265.3 L730.0 267.1 L732.9 267.1 L735.2 267.4 L738.0 267.2 L741.2 266.7 L744.3 265.0 L747.5 261.6 L749.8 258.8 L752.2 256.7 L755.1 253.0 L758.1 252.2 L760.8 251.1 L764.5 251.9 L768.0 252.7 L770.2 252.1 L773.1 250.3 L775.3 248.6 L779.7 246.4 L783.4 244.8 L786.3 241.7 L788.1 238.9 L789.2 234.1 L792.3 232.1 L794.2 229.9 L796.7 228.4 L800.1 228.7 L802.9 227.3 L805.1 226.2 L808.1 226.5 L810.0 223.7 L812.2 222.9 L815.3 223.0 L819.1 222.0 L821.4 220.8 L826.2 221.1 L828.4 220.3 L830.8 218.9 L834.9 219.9 L837.8 221.7 L840.3 221.8 L843.2 221.6 L846.0 222.0 L849.8 222.7 L851.7 221.1 L854.5 218.9 L854.8 214.4 L853.6 211.4 L851.9 207.0 L848.8 204.7 L845.4 203.3 L842.2 200.0 L845.0 197.5 L848.5 195.8 L845.8 194.7 L843.4 193.7 L840.9 191.4 L837.1 190.2 L834.2 190.9 L830.1 189.2 L825.8 188.3 L823.4 188.6 L820.9 189.9 L817.1 191.7 L814.4 191.9 L810.6 190.2 L807.0 193.2 L803.8 194.3 L800.3 195.3 L797.7 194.7 L795.5 193.9 L791.9 193.3 L789.4 194.3 L786.6 195.6 L784.1 195.8 L782.1 195.2 L778.8 194.0 L776.1 192.3 L774.6 190.2 L775.1 186.7 L776.5 182.6 L779.2 179.7 L780.7 176.4 L782.8 174.3 L784.1 171.2 L785.8 166.8 L786.0 163.6 L787.5 162.0 L789.8 159.8 L792.3 156.5 L794.8 152.5 L796.0 148.0 L795.5 144.7 L799.0 145.4 L801.9 144.7 L804.5 146.2 L807.0 146.8 L810.0 148.5 L814.4 148.5 L817.2 149.3 L820.5 148.5 L823.6 147.0 L826.0 146.4 L828.1 144.1 L831.4 140.9 L832.5 137.9 L834.4 136.4 L837.1 134.7 L839.5 134.3 L842.7 130.9 L842.9 128.5 L844.7 125.8 L847.2 122.3 L848.3 119.5 L849.3 115.2 L850.0 112.5 L850.6 110.3 L851.3 107.4 L853.8 104.9 L856.9 101.9 L858.3 99.5 L859.5 97.3 L861.4 95.4 L864.0 93.6 L867.0 90.7 L868.7 89.0 L869.8 86.1 L869.9 82.2 L868.2 78.7 L867.0 76.5 L862.0 76.9 L857.6 75.6 L856.6 71.8 L860.0 69.4 L863.3 67.0 L865.1 64.2 L866.2 62.4 L870.8 60.4 L875.6 60.2 L878.0 59.0 L880.3 58.0 L883.4 57.0 L886.0 57.6 L889.7 57.5 L891.7 56.1 L894.2 55.7 L897.3 55.3 L901.9 54.3 L905.9 54.6 L908.7 53.4 L912.4 52.4 L916.3 52.3 L920.3 53.3 L923.7 52.9 L925.8 53.8 L928.5 53.8 L931.8 55.0 L935.2 58.5 L937.7 59.4 L940.6 60.0 L944.7 62.3 L948.4 63.8 L950.8 64.0 L954.2 64.2 L958.0 65.5 L959.9 67.2 L961.7 68.9 L964.6 71.9 L967.4 75.6 L968.9 77.3 L971.2 79.3 L972.2 81.9 L973.1 84.1 L974.7 87.3 L975.0 89.8 L976.9 93.6 L978.0 96.6 L978.2 98.7 L980.7 102.1 L980.4 106.2 L982.6 110.6 L983.0 114.5 L985.5 116.3 L986.4 118.2 L987.5 121.8 L990.2 125.8 L990.4 130.0 L992.8 132.0 L994.2 135.7 L993.8 139.5 L993.3 142.3 L997.2 144.9 L998.9 148.0 L1003.3 149.5 L1005.3 149.1 L1008.4 149.9 L1011.7 150.3 L1013.4 151.6 L1017.9 150.8 L1021.4 153.3 L1025.5 154.6 L1029.2 155.5 L1033.0 155.6 L1036.2 157.2 L1038.7 161.2 L1041.7 162.3 L1044.4 166.0 L1047.8 167.0 L1051.0 167.9 L1051.4 171.9 L1050.1 175.5 L1052.2 177.5 L1053.9 181.1 L1052.4 184.3 L1052.9 186.8 L1053.9 188.9 L1056.8 190.8 L1057.7 194.4 L1061.3 195.5 L1065.2 195.3 L1069.6 195.2 L1072.1 195.1 L1074.7 195.3 L1079.0 193.5 L1083.2 194.4 L1086.3 192.4 L1088.0 189.7 L1091.1 188.4 L1095.5 186.8 L1099.6 184.5 L1103.1 183.0 L1106.9 180.8 L1109.7 179.6 L1112.6 180.2 L1115.7 180.9 L1118.3 180.3 L1122.0 178.9 L1124.6 178.3 L1127.0 177.8 L1131.5 177.3 L1129.6 180.2 L1126.4 181.5 L1124.9 183.0 L1123.7 185.4 L1123.9 188.7 L1125.0 192.1 L1126.8 194.4 L1125.3 197.8 L1123.9 200.1 L1119.5 201.6 L1117.3 203.9 L1115.7 207.3 L1115.4 210.5 L1114.0 214.3 L1112.6 217.1 L1112.6 221.6 L1110.7 224.7 L1110.3 227.3 L1109.7 230.4 L1108.5 232.8 L1105.9 236.1 L1104.2 239.0 L1103.1 241.7 L1101.6 243.5 L1101.2 246.5 L1099.0 250.3 L1096.5 253.1 L1094.8 257.1 L1093.6 260.7 L1090.6 259.8 L1088.7 259.6 L1084.2 257.8 L1080.4 256.8 L1078.8 254.9 L1076.2 254.1 L1073.8 254.1 L1071.8 256.3 L1069.0 258.8 L1067.6 260.9 L1065.1 262.1 L1061.5 262.2 L1057.7 264.5 L1058.5 267.5 L1059.1 269.3 L1060.5 273.9 L1061.9 277.9 L1061.2 281.0 L1062.4 285.3 L1060.9 287.6 L1060.9 291.7 L1061.1 294.1 L1061.4 297.6 L1063.3 300.5 L1061.9 304.1 L1061.5 307.0 L1059.9 309.0 L1056.6 312.6 L1054.2 314.7 L1051.7 316.5 L1049.5 318.5 L1050.4 321.1 L1050.5 324.2 L1047.5 321.0 L1044.8 318.5 L1044.0 315.3 L1041.9 311.9 L1037.2 312.8 L1037.0 317.7 L1036.1 320.2 L1033.4 322.3 L1029.9 323.3 L1025.8 326.1 L1022.4 328.0 L1020.2 331.7 L1016.8 332.8 L1015.3 334.7 L1010.7 334.6 L1007.8 334.5 L1004.1 336.5 L1005.5 339.7 L1006.9 343.1 L1006.3 347.3 L1005.0 349.7 L1001.2 348.6 L997.4 349.7 L994.4 347.9 L992.2 347.7 L988.0 345.9 L984.4 344.1 L982.3 341.2 L979.3 343.3 L976.6 345.0 L975.2 349.1 L973.5 351.4 L970.9 352.6 L968.6 356.1 L967.1 360.2 L963.6 362.1 L959.5 363.0"/>
<path d="M437.7 316.5 L439.2 319.6 L439.2 322.6 L440.5 324.7 L442.0 328.4 L442.0 332.1 L442.5 335.1 L444.0 339.2 L446.2 342.6 L445.8 345.6 L444.8 349.7 L445.5 351.9 L447.9 354.6 L450.4 356.4 L454.8 358.2 L457.3 360.7 L457.8 363.3 L458.0 366.1 L460.5 369.6 L463.7 367.3 L467.6 366.8 L471.8 366.0 L474.4 365.4 L478.0 365.5 L480.3 362.6 L483.2 361.1 L485.3 361.7 L488.3 361.4 L491.7 363.9 L492.6 368.6 L492.9 371.4 L493.1 373.9 L491.2 376.4 L491.0 379.0 L487.8 380.8 L486.0 382.4 L484.2 384.5 L481.8 386.6 L485.4 390.1 L488.9 392.3 L493.4 393.8 L495.9 395.8 L498.8 398.0 L500.0 399.7 L502.9 401.3 L505.9 403.7 L507.9 407.2 L510.2 410.8 L513.4 413.1 L515.0 415.0 L517.3 416.5 L519.7 414.9 L523.0 412.2 L523.9 409.9 L524.4 406.5 L526.7 405.5 L529.1 404.0 L532.2 403.2 L534.3 402.5 L537.2 402.3 L541.6 403.8 L546.2 402.7 L550.2 401.8 L551.7 399.6 L554.2 398.0 L556.4 398.4 L559.6 400.1 L564.1 399.4 L565.4 404.2 L565.6 408.0 L564.4 412.6 L562.5 414.0 L559.9 416.5 L557.6 418.5 L554.6 418.9 L552.8 422.2 L551.4 426.0 L551.4 430.7 L552.6 432.6 L554.3 435.1 L557.0 437.8 L558.3 439.8 L561.0 441.0 L564.0 442.0 L565.6 443.5 L567.8 445.4 L571.2 446.3"/>
<path d="M693.6 397.0 L698.1 395.3 L701.1 394.1 L703.0 392.0 L703.6 389.9 L705.4 387.4 L707.7 384.1 L710.6 382.6 L712.8 380.3 L715.7 377.7 L719.4 376.3 L722.0 375.0 L726.1 372.7 L729.2 373.0 L733.3 371.2 L736.8 373.0 L739.7 373.4 L742.8 373.7 L744.7 373.1 L744.7 376.4 L745.7 379.6 L748.3 383.0 L750.4 386.4 L752.1 388.9 L752.5 392.5 L752.8 396.8 L754.2 399.6 L749.9 401.6 L746.6 404.8 L744.8 406.3 L742.8 409.1 L742.1 411.7 L741.2 415.2 L739.5 417.6 L737.1 420.5 L737.7 423.7 L738.6 428.4 L739.4 431.5 L739.0 435.6 L742.6 438.5 L743.9 440.6 L746.6 443.2 L745.2 446.9 L745.8 450.1 L744.7 454.5 L743.7 458.2 L744.2 461.1 L742.7 463.3 L742.4 466.2 L739.0 469.7 L740.8 472.7 L742.8 474.2"/>
<path d="M744.7 373.1 L745.5 370.2 L744.8 367.6 L743.3 364.3 L742.8 359.8 L744.4 357.2 L745.5 353.7 L746.5 351.3 L746.6 348.5 L746.5 344.5 L747.5 341.1 L748.5 339.0 L751.3 337.2 L754.2 336.7 L757.4 334.3 L759.8 331.4 L762.4 334.7 L761.6 339.1 L761.9 341.6 L761.6 345.2 L764.6 343.5 L767.7 342.9 L769.7 342.8 L772.6 342.0 L774.6 340.1 L777.7 338.7 L779.9 336.4 L782.5 335.5 L786.2 337.1 L789.8 337.9 L791.4 335.9 L794.6 334.7 L797.5 331.9 L799.4 329.9 L798.6 325.9 L800.7 324.8 L803.5 323.5 L806.5 323.0 L809.9 321.0 L812.6 319.9 L815.5 320.2 L817.5 322.7 L817.9 325.1 L819.7 326.9 L820.3 329.9 L822.7 332.2 L823.6 334.7 L823.6 338.2 L822.0 341.2 L825.2 344.8 L829.2 347.6 L832.5 349.1 L835.6 350.8 L838.1 351.5 L840.5 352.4"/>
<path d="M852.5 383.8 L850.6 386.4 L848.5 387.0 L846.7 389.7 L844.5 391.0 L843.8 394.4 L842.1 395.9 L838.0 398.4 L835.6 400.7 L832.5 401.1 L828.5 400.8 L826.5 402.8 L824.4 403.9 L820.4 404.3 L817.7 403.0 L815.5 403.1"/>
<path d="M812.3 416.8 L813.1 421.6 L815.2 424.1 L817.5 427.1"/>
<path d="M842.2 505.2 L842.3 508.2 L843.6 510.9 L846.6 514.1 L847.9 516.6 L850.7 520.2 L853.6 522.3 L857.4 524.7 L859.3 528.0 L861.2 530.6 L862.8 532.9 L863.5 535.1 L866.1 539.1 L867.8 543.6 L867.1 546.2 L868.2 549.0 L870.6 552.1 L872.8 554.2 L874.7 558.7 L878.3 561.0 L879.9 563.7 L881.1 566.8 L881.0 568.9 L882.3 573.1 L880.9 576.3 L879.0 578.7 L878.0 581.2 L878.7 585.0 L878.4 588.1 L879.9 590.9 L882.6 592.6 L887.0 593.3 L887.9 595.3 L888.6 598.7 L891.8 601.6 L890.8 604.3 L890.6 608.7 L887.2 610.0 L884.7 613.4 L882.2 614.1 L879.9 615.8"/>
<path d="M876.4 611.0 L876.4 608.6 L877.5 606.1 L877.5 602.6 L877.6 599.2 L878.6 595.1 L879.9 590.9"/>
<path d="M586.2 684.9 L585.1 687.8 L585.1 690.4 L581.8 689.9 L578.5 691.5 L575.7 692.8 L572.0 692.7 L567.8 692.9 L565.3 692.7 L562.6 691.6 L560.1 694.9 L557.9 696.5 L555.5 698.7 L557.3 702.6 L557.0 704.9 L556.7 708.1 L559.1 711.3 L562.6 714.0 L566.8 715.9 L569.7 717.6 L570.1 720.6 L572.0 724.7 L571.5 727.7 L570.4 730.1 L568.5 734.2 L569.4 737.4 L571.3 739.1 L574.4 741.3 L575.9 744.4 L578.0 748.4 L576.5 750.5 L574.0 751.8 L572.0 755.5 L572.0 760.2"/>
<path d="M886.0 57.6 L887.3 61.7 L888.8 64.2 L885.4 66.8 L884.1 69.9 L881.3 72.2 L878.4 75.6 L881.8 79.2 L885.0 80.3 L888.8 81.0 L891.7 83.1 L894.1 81.9 L895.5 79.4 L897.9 80.2 L901.1 82.2 L904.1 84.4 L905.9 86.0 L906.3 89.3 L905.9 93.6 L907.4 98.0 L907.8 101.1 L909.8 104.0 L912.5 106.8 L914.7 107.1 L917.9 107.3 L922.0 107.8 L924.0 106.3 L927.7 105.9 L930.0 106.6 L933.3 106.8 L937.7 106.5 L939.6 105.2 L942.8 104.9 L945.4 103.1 L948.5 99.2 L951.9 99.3 L954.2 100.2 L957.7 102.2 L959.1 104.5 L959.8 106.8 L962.2 110.6 L964.5 113.0 L966.5 115.3 L965.0 118.0 L963.6 122.0 L962.7 125.0 L961.7 127.7 L958.6 129.3 L956.1 133.3 L954.3 135.9 L953.4 137.5 L952.3 140.9 L952.4 144.7 L950.4 148.5 L951.4 151.5 L952.3 154.2 L950.5 156.6 L950.4 159.8 L947.3 161.6 L944.7 161.7 L944.5 165.4 L942.8 167.4 L941.2 171.7 L939.0 175.0 L937.5 177.7 L937.0 180.6 L938.1 185.4 L937.2 183.4 L935.2 180.7 L934.4 178.8 L933.3 175.9 L930.5 179.1 L925.8 180.7 L924.6 183.7 L921.5 186.2 L918.8 187.7 L916.3 188.3 L915.2 190.2 L913.7 192.7 L911.5 194.9 L906.8 195.8 L905.7 197.7 L903.7 199.9 L901.1 203.4 L904.0 206.1 L905.8 208.2 L906.8 211.0 L908.5 213.2 L909.7 216.7 L912.2 217.7 L915.3 218.6 L918.9 216.6 L921.0 214.8 L922.0 218.6 L918.9 221.6 L914.4 222.3 L912.5 224.6 L910.6 228.0"/>
<path d="M933.3 106.8 L932.5 111.0 L931.8 114.7 L931.0 119.6 L931.8 123.1 L932.4 125.8 L929.3 127.3 L925.8 127.7 L924.8 131.4 L928.6 134.3 L931.1 133.6 L935.2 133.3 L935.3 129.6 L937.1 126.7 L932.4 125.8"/>
<path d="M935.2 133.3 L935.4 137.1 L937.5 138.5 L939.2 141.5 L939.4 144.7 L939.0 147.5 L942.0 145.0 L944.2 143.9 L948.5 142.8 L952.3 140.9"/>
<path d="M910.6 228.0 L911.6 231.3 L913.4 232.8 L917.0 230.9 L920.4 229.4 L923.2 229.0 L925.8 229.9 L927.1 232.3 L928.6 235.6 L929.1 238.9 L929.5 243.2 L930.2 246.5 L933.3 247.1 L936.8 250.3 L941.5 249.6 L945.3 249.4 L948.5 250.8 L952.0 251.2 L955.2 249.3 L959.5 249.4 L962.6 252.7 L965.2 255.0 L968.3 255.3 L970.3 255.9 L974.7 256.0 L977.2 257.4 L979.7 258.3 L983.2 260.7 L985.2 264.3 L985.1 269.2 L988.2 270.6 L991.7 271.1 L993.8 275.0 L995.5 278.7 L998.8 279.7 L1001.2 281.6 L1002.5 279.4 L1005.0 276.8 L1007.5 275.2 L1009.7 274.9 L1012.1 278.4 L1012.7 280.7 L1012.6 284.4 L1013.7 289.2 L1016.4 292.9 L1018.7 294.4 L1021.1 296.7 L1022.5 293.9 L1024.9 291.0 L1028.7 290.0 L1031.5 289.1 L1034.1 287.0 L1038.1 286.3 L1039.4 289.7 L1041.0 292.0 L1044.6 293.7 L1046.7 295.8 L1048.7 298.2 L1051.5 299.1 L1053.8 300.1 L1057.1 299.5 L1059.3 299.3 L1062.8 299.5"/>
<path d="M910.3 227.6 L906.7 229.1 L904.6 231.4 L901.1 232.3 L898.0 236.1 L895.1 236.5 L891.4 238.0 L889.6 239.2 L887.6 241.8 L888.5 243.9 L890.4 246.5 L893.4 248.0 L896.1 248.4 L896.1 252.3 L898.0 256.0 L899.5 260.6 L898.9 263.6 L896.4 267.0 L896.1 271.1 L898.8 273.7 L900.8 275.9 L904.4 276.5 L908.4 274.9 L910.5 276.1 L914.1 276.8 L916.0 281.0 L916.0 284.4 L918.2 287.6 L919.8 292.0 L919.1 295.4 L917.9 298.6 L920.3 300.9 L922.6 301.4 L925.5 300.5"/>
<path d="M595.3 559.2 L598.3 560.3 L600.0 561.8 L603.5 561.9 L606.0 561.6 L608.0 562.7 L610.1 564.7 L613.8 565.1 L617.8 565.1 L620.4 567.9 L623.0 569.7 L624.9 571.0 L629.0 572.2 L631.4 574.2 L633.9 574.9 L636.7 575.8 L639.4 576.8 L643.4 575.8 L646.1 576.1 L648.5 576.7 L652.0 579.5 L655.6 580.3 L659.5 583.3 L662.6 583.4 L665.2 585.2 L664.8 580.4 L664.3 575.8 L665.9 571.6 L665.0 569.2 L665.2 565.3 L669.5 564.1 L672.8 564.4 L673.4 561.7 L673.8 558.7 L671.0 556.9 L668.1 554.9 L670.4 552.5 L672.8 550.2 L676.5 551.5 L679.0 550.5 L682.3 551.1 L686.6 551.0 L690.8 549.2"/>
<path d="M678.5 514.2 L679.7 516.6 L681.6 519.7 L682.3 524.6 L683.1 527.9 L685.4 529.9 L686.1 532.2 L687.6 536.8 L688.9 540.7 L688.7 545.5 L690.8 549.2"/>
<path d="M690.8 549.2 L692.5 552.3 L692.7 554.6 L695.5 558.7 L697.9 561.7 L700.4 562.8 L703.1 564.4 L706.8 566.1 L709.2 567.2 L710.1 569.2 L712.6 571.0 L715.6 571.3 L717.7 570.7 L722.0 572.9 L725.2 571.7 L727.4 572.3 L731.5 571.0 L734.1 571.2 L737.4 570.9 L741.0 570.1 L741.0 574.1 L741.9 578.6 L744.5 581.2 L746.7 583.3 L750.6 583.7 L753.0 584.8 L756.1 585.2 L760.6 586.5 L763.7 586.2 L763.9 582.6"/>
<path d="M643.4 575.8 L642.9 578.4 L640.6 581.4 L643.4 585.0 L644.4 589.0 L642.1 591.4 L638.7 594.7 L637.6 598.7 L634.9 602.3 L633.0 606.5 L633.5 608.7 L633.0 611.7 L629.8 614.7 L626.9 614.8 L623.6 617.4 L619.8 620.0 L618.4 621.8 L617.9 625.0 L613.3 623.5 L608.4 623.1 L604.0 621.6 L600.8 619.3 L597.4 619.7 L593.3 621.2 L594.0 625.4 L592.3 628.3 L591.4 630.7 L588.8 634.0 L587.3 636.8 L585.7 638.3 L583.5 640.0 L580.0 642.0 L581.9 640.8 L584.7 639.7 L585.0 642.6 L587.0 646.8 L585.3 651.0 L583.5 653.9 L584.4 657.4 L586.1 659.2 L587.2 662.6 L587.0 665.7 L589.6 665.7 L592.9 664.5"/>
<path d="M665.2 585.2 L668.4 587.8 L670.9 590.9 L673.6 595.1 L674.7 598.5 L674.6 602.4 L673.8 606.1 L671.5 606.3 L668.2 606.3 L666.2 608.0 L663.3 609.8 L661.0 611.4 L658.9 612.6 L655.8 613.6 L653.6 614.2 L650.6 614.8 L646.3 615.5 L644.4 618.0 L643.4 621.2 L645.2 624.1 L646.0 626.8 L646.7 629.7 L646.3 632.6 L648.2 637.2 L649.8 639.5 L652.0 641.1 L656.2 641.8 L659.5 642.0 L661.4 640.2 L660.6 642.8 L660.7 645.3 L659.5 649.6 L657.8 653.3 L658.8 655.9 L658.6 659.1 L659.8 662.2 L660.5 666.7 L657.7 670.5"/>
<path d="M661.4 640.2 L662.9 638.7 L664.8 635.8 L666.3 634.1 L669.0 632.6 L672.4 632.0 L674.6 631.7 L678.5 631.4 L680.4 629.7 L682.4 627.3 L686.1 625.9 L689.7 628.1 L692.7 629.3 L695.5 628.8 L698.8 629.7 L701.1 632.2 L705.0 633.5 L708.1 636.6 L711.4 638.6 L714.5 639.2 L719.4 639.3 L723.9 638.3 L727.3 637.5 L729.6 635.4 L731.9 634.3 L735.3 632.6 L737.1 636.7 L739.7 638.4 L741.0 640.2 L743.3 643.6 L743.5 646.5 L744.8 649.6 L746.7 653.4"/>
<path d="M746.7 653.4 L748.6 649.6 L751.5 648.1 L754.2 645.8 L756.6 642.5 L759.1 641.9 L761.8 640.2 L766.2 638.6 L768.5 635.8 L771.3 634.5 L774.9 635.0 L778.3 633.1 L781.0 631.8 L785.2 632.3 L783.8 629.4 L782.7 625.3 L781.7 620.5 L781.4 617.9 L782.3 614.6 L780.8 611.5 L779.3 608.7 L782.0 606.2 L782.9 603.9 L781.1 600.8 L780.5 596.8 L779.2 594.3 L776.1 591.2 L773.2 590.1 L771.0 589.7 L768.6 586.0 L765.7 584.6 L763.9 582.6 L767.3 579.5 L771.0 577.9 L773.6 576.1 L778.1 574.3 L778.9 570.4 L780.5 566.0 L779.3 562.7 L777.5 561.4 L773.4 558.9 L769.2 556.8 L766.3 556.6 L764.1 553.5 L766.2 551.0 L769.8 549.3 L771.4 546.3 L772.6 543.6 L773.4 540.1 L775.5 537.9 L775.9 535.4 L774.7 532.2 L778.3 530.1 L780.2 533.0 L782.6 535.1 L786.8 533.6 L788.8 532.9 L791.8 532.2 L792.5 528.8 L792.5 526.5 L788.6 524.5 L786.8 522.3 L789.7 519.4"/>
<path d="M770.5 478.2 L771.2 482.5 L774.1 482.1 L778.3 483.2 L775.1 484.7 L772.6 488.2 L769.7 490.7 L767.6 493.9 L766.2 496.2 L764.1 499.5 L762.8 502.4 L762.0 504.5 L764.5 507.3 L766.9 508.1 L769.4 508.7 L771.2 510.9 L773.3 513.0 L774.0 515.2 L776.5 516.8 L781.1 518.0 L784.6 517.8 L786.8 516.6 L789.7 519.4 L789.7 514.5"/>
<path d="M785.2 632.3 L789.6 630.8 L793.5 628.8 L795.1 631.6 L797.5 633.2 L799.4 637.1 L801.5 634.9 L803.0 632.8 L806.5 631.1 L807.8 633.7 L808.8 636.3 L811.6 638.4 L813.6 639.4 L817.2 642.2 L819.6 643.8 L820.7 646.5 L823.6 644.4 L825.5 641.8 L829.7 639.2 L831.5 636.5 L832.6 634.7 L833.6 630.4 L836.1 627.6 L839.5 625.7 L840.1 623.1 L842.0 620.5 L842.9 618.1 L844.9 615.1 L845.6 611.0 L847.6 606.9 L849.1 605.3 L851.5 602.7"/>
<path d="M820.7 646.5 L821.3 649.7 L822.9 651.4 L824.6 654.0 L825.5 656.0 L827.0 658.4 L827.1 661.7 L827.8 665.5 L831.0 668.5 L832.6 672.6 L833.8 676.9 L834.7 680.0 L836.1 682.0 L838.4 683.9 L839.7 688.0 L842.9 687.1 L846.8 685.6 L847.8 688.8 L848.7 690.9 L851.5 693.9 L853.9 693.7 L856.7 694.5 L861.0 696.2 L862.0 699.9 L863.4 703.4"/>
<path d="M832.6 672.6 L829.5 672.9 L827.4 674.2 L825.0 675.0 L823.1 677.3 L820.2 676.9 L818.0 677.8 L813.6 679.7 L810.1 682.1 L807.5 683.3 L805.4 684.4 L805.3 688.0 L803.8 689.9 L801.8 693.9 L801.1 695.9 L800.9 699.3 L799.4 703.4 L797.2 706.8 L795.4 709.0 L792.3 710.5 L793.4 713.5 L792.9 715.8 L792.6 718.9 L790.0 722.3 L788.6 724.6 L786.9 726.7 L786.9 730.7 L786.5 733.6 L785.2 736.5 L782.6 738.9 L781.0 742.0 L780.0 745.7 L780.5 748.3 L781.7 752.2 L782.9 755.4"/>
<path d="M786.0 754.1 L787.7 756.8 L789.6 757.8 L792.8 759.1 L795.4 758.9 L796.8 762.7 L797.9 765.4 L800.2 768.3 L800.5 771.3 L801.1 774.1 L801.0 777.8 L802.5 780.2 L802.4 783.6 L803.7 787.3 L803.9 788.8"/>
<path d="M745.7 651.1 L748.1 655.3 L748.1 659.4 L745.9 662.7 L744.3 665.2 L744.1 668.5 L743.4 671.3 L743.2 674.1 L743.4 676.4 L741.0 680.7 L740.8 683.7 L740.4 686.1 L738.3 689.8 L738.6 692.6 L740.3 694.4 L741.9 697.6 L742.2 702.0 L742.0 705.3 L742.0 707.6 L742.6 711.0 L743.4 713.9 L744.2 718.5 L745.0 721.6 L745.7 725.7 L744.8 729.3 L745.4 732.9 L744.5 735.2 L746.2 738.7 L745.7 742.3"/>
<path d="M745.7 742.3 L748.4 741.1 L750.7 741.4 L755.2 741.1 L757.4 744.2 L758.7 747.0 L756.3 751.4 L752.8 754.1 L752.2 757.0 L750.5 760.0 L754.6 761.8 L757.1 762.9 L759.9 762.4 L762.5 761.7 L764.7 760.9 L769.4 761.2 L772.4 759.3 L776.5 756.5 L778.1 754.5 L781.2 751.8 L783.5 753.3 L786.0 754.1"/>
<path d="M745.7 742.3 L743.6 741.4 L741.0 739.9 L736.9 740.2 L734.2 739.8 L731.5 739.9 L728.6 742.3 L724.4 744.7 L722.1 744.0 L719.2 744.5 L717.0 746.5 L712.6 747.0 L711.0 750.5 L709.0 754.1"/>
<path d="M709.0 754.1 L706.9 754.4 L703.5 754.0 L700.3 755.3 L698.4 756.5 L695.1 753.9 L692.8 751.3 L691.3 749.4 L693.4 746.0 L693.8 743.5 L693.6 739.9 L694.2 736.7 L695.4 734.9 L697.2 730.5 L695.1 727.1 L694.8 723.4 L692.6 721.8 L689.9 721.3 L687.7 718.6 L684.5 720.8 L681.8 721.0 L679.2 721.4 L676.4 722.9 L673.5 725.7 L671.9 723.9 L671.1 721.0 L670.1 717.1 L670.0 713.9 L670.0 711.5 L666.6 709.3 L664.0 709.1 L662.9 706.1 L661.7 702.0"/>
<path d="M709.2 756.8 L708.4 759.2 L709.1 762.6 L707.5 765.6 L706.8 768.7 L706.0 773.6 L704.5 778.1 L705.2 781.2 L706.2 783.5 L708.0 787.6 L706.8 789.8 L704.0 791.9 L700.9 794.7 L699.8 797.7 L699.3 800.5 L696.2 804.2 L692.3 806.2 L690.0 807.7 L687.9 811.3 L687.1 815.6 L685.5 818.4 L683.4 818.9 L680.5 820.4 L677.2 823.1 L675.6 826.3 L675.0 829.2 L676.0 831.4 L673.9 833.1 L670.1 834.9 L667.8 838.5"/>
<path d="M629.6 436.8 L627.7 440.2 L624.6 441.8 L624.2 444.8 L622.5 448.2 L623.0 452.0 L621.9 454.5 L622.9 456.8 L622.5 459.5"/>
<path d="M678.4 870.8 L681.9 872.9 L684.4 873.5 L687.9 874.6 L687.8 878.2 L687.7 882.0 L688.6 884.2 L689.8 887.9 L687.8 890.1 L686.7 892.8 L687.0 896.0 L686.0 899.2 L684.1 902.7 L680.4 905.1 L679.4 907.9 L678.4 910.6 L675.0 911.9 L671.8 913.5 L669.9 915.5 L667.0 916.3 L663.8 913.5 L660.1 913.3 L657.6 912.5 L655.7 910.5 L652.0 909.1 L648.1 906.8 L647.6 903.4 L648.7 900.7 L647.8 897.7 L646.2 895.5 L647.5 892.6 L648.0 889.6 L650.0 886.0 L652.4 884.1 L654.8 883.9 L657.0 880.8 L659.5 878.4 L663.7 876.6 L666.9 874.8 L668.9 873.5 L672.8 872.4 L676.2 872.3 Z"/>
<path d="M883.2 746.2 L886.0 748.5 L889.1 750.9 L890.7 755.6 L890.3 759.2 L891.3 761.5 L890.5 764.9 L888.9 767.4 L886.7 771.0 L885.5 775.1 L883.7 779.6 L883.7 782.7 L883.2 785.2 L882.0 788.3 L879.8 790.3 L880.4 794.1 L879.9 797.6 L878.5 799.4 L876.9 802.2 L874.9 803.8 L873.8 806.2 L874.3 809.4 L873.7 813.6 L873.8 816.6 L874.9 819.0 L874.7 822.5 L872.5 825.5 L869.0 824.3 L867.7 821.0 L867.2 818.0 L865.7 815.3 L864.3 813.6 L862.9 810.9 L861.3 807.4 L859.9 804.0 L858.3 801.8 L857.9 798.5 L859.0 796.2 L857.6 793.8 L857.1 790.0 L858.5 787.3 L859.6 784.8 L859.0 782.4 L859.9 779.2 L860.7 775.8 L862.1 772.4 L864.8 770.4 L864.6 766.4 L866.6 762.7 L867.7 760.1 L868.4 756.4 L871.0 754.0 L872.5 752.1 L875.4 750.2 L878.5 747.3 Z"/>
<g stroke="#6e6e6e" stroke-width="0.9">
<path d="M900.3 842.5 L908.8 836.5 L1012.6 836.5 L1012.6 998.1 L900.3 998.1 Z"/>
<path d="M902.5 845.2 L902.5 998.1"/>
<path d="M1010.4 836.5 L1010.4 998.1"/>
<path d="M901.2 842.5 L908.8 836.5 L973.5 837.1 L953.7 848.8 L926.8 856.9 L913.3 856.0 Z" fill="#e9eaea"/>
<path d="M990.6 837.1 L1004.1 837.1 L997.8 849.7 Z" fill="#e9eaea"/>
<path d="M922.3 865.0 L933.6 861.9 L928.2 873.6 L919.2 876.7 Z" fill="#f0f0f0"/>
<path d="M921.0 892.8 L923.2 891.9 L927.1 903.1 L925.0 904.0 Z"/>
<path d="M928.2 919.3 L932.2 918.9 L923.2 929.4 L921.0 929.4 Z"/>
<path d="M910.6 949.0 L914.2 948.2 L916.5 958.5 L914.2 959.0 Z"/>
<path d="M940.3 980.6 L952.8 975.0 L953.7 975.9 L942.9 981.0 Z"/>
<path d="M975.0 945.0 L977.7 945.0 L968.1 960.3 L964.9 960.3 Z"/>
<path d="M989.7 915.9 L993.3 915.3 L987.9 925.8 L984.3 926.1 Z"/>
<path d="M989.2 886.2 L993.3 886.2 L993.3 897.7 L989.2 897.7 Z"/>
<path d="M996.0 867.1 L998.7 866.8 L993.3 875.4 L991.2 875.8 Z"/>
<path d="M1008.1 848.4 L1010.4 848.8 L1004.6 858.3 L1001.8 858.3 Z"/>
</g></g>
<g fill="#c1272d">
<circle cx="261.4" cy="290.8" r="3.9"/>
<circle cx="325.8" cy="636.8" r="3.9"/>
<circle cx="521.5" cy="466.2" r="3.9"/>
<circle cx="558.5" cy="479.8" r="3.9"/>
<circle cx="603.8" cy="421.5" r="3.9"/>
<circle cx="653.0" cy="524.2" r="3.9"/>
<circle cx="702.3" cy="363.6" r="3.9"/>
<circle cx="719.0" cy="436.3" r="3.9"/>
<circle cx="754.5" cy="431.6" r="3.9"/>
<circle cx="789.8" cy="386.2" r="3.9"/>
<circle cx="807.0" cy="403.9" r="3.9"/>
<circle cx="918.5" cy="339.9" r="3.9"/>
<circle cx="953.0" cy="288.6" r="3.9"/>
<circle cx="977.3" cy="243.2" r="3.9"/>
<circle cx="800.2" cy="465.2" r="3.9"/>
<circle cx="739.1" cy="512.1" r="3.9"/>
<circle cx="832.9" cy="578.9" r="3.9"/>
<circle cx="805.4" cy="582.9" r="3.9"/>
<circle cx="882.4" cy="598.3" r="3.9"/>
<circle cx="751.0" cy="614.4" r="3.9"/>
<circle cx="858.1" cy="621.7" r="3.9"/>
<circle cx="780.3" cy="661.0" r="3.9"/>
<circle cx="726.8" cy="672.8" r="3.9"/>
<circle cx="842.8" cy="724.4" r="3.9"/>
<circle cx="883.0" cy="749.8" r="3.9"/>
<circle cx="563.4" cy="612.5" r="3.9"/>
<circle cx="607.6" cy="640.2" r="3.9"/>
<circle cx="611.4" cy="712.4" r="3.9"/>
<circle cx="538.4" cy="750.0" r="3.9"/>
<circle cx="640.9" cy="804.5" r="3.9"/>
<circle cx="732.2" cy="779.3" r="3.9"/>
<circle cx="751.1" cy="815.5" r="3.9"/>
<circle cx="734.5" cy="827.1" r="3.9"/>
<circle cx="677.9" cy="872.1" r="3.9"/>
</g>
<g font-family="'Liberation Sans',Arial,sans-serif" font-weight="bold" font-size="16.7" fill="#111" stroke="#111" stroke-width="0.5" stroke-linejoin="round">
<text x="228.7" y="312.1" textLength="56.8" lengthAdjust="spacingAndGlyphs">Xinjiang</text>
<text x="241.5" y="332.2" textLength="40.7" lengthAdjust="spacingAndGlyphs">(n=5)</text>
<text x="313.4" y="624.0" textLength="35.6" lengthAdjust="spacingAndGlyphs">Tibet</text>
<text x="454.2" y="471.9" textLength="54.6" lengthAdjust="spacingAndGlyphs">Qinghai</text>
<text x="541.4" y="501.1" textLength="44.1" lengthAdjust="spacingAndGlyphs">Gansu</text>
<text x="573.1" y="437.5" textLength="52.5" lengthAdjust="spacingAndGlyphs">Ningxia</text>
<text x="584.9" y="457.8" textLength="38.3" lengthAdjust="spacingAndGlyphs">(n=3)</text>
<text x="609.9" y="539.9" textLength="55.7" lengthAdjust="spacingAndGlyphs">Shaanxi</text>
<text x="618.2" y="560.9" textLength="48.5" lengthAdjust="spacingAndGlyphs">(n=10 )</text>
<text x="509.6" y="628.6" textLength="56.8" lengthAdjust="spacingAndGlyphs">Sichuan</text>
<text x="523.6" y="650.3" textLength="39.8" lengthAdjust="spacingAndGlyphs">(n=7)</text>
<text x="581.2" y="655.4" textLength="75.7" lengthAdjust="spacingAndGlyphs">Chongqing</text>
<text x="603.7" y="677.2" textLength="39.7" lengthAdjust="spacingAndGlyphs">(n=3)</text>
<text x="578.7" y="732.5" textLength="58.0" lengthAdjust="spacingAndGlyphs">Guizhou</text>
<text x="506.9" y="766.8" textLength="52.8" lengthAdjust="spacingAndGlyphs">Yunnan</text>
<text x="608.7" y="819.4" textLength="57.6" lengthAdjust="spacingAndGlyphs">Guangxi</text>
<text x="621.8" y="840.7" textLength="39.0" lengthAdjust="spacingAndGlyphs">(n=9)</text>
<text x="633.7" y="354.9" textLength="103.4" lengthAdjust="spacingAndGlyphs">Inner Mongolia</text>
<text x="690.1" y="451.0" textLength="48.6" lengthAdjust="spacingAndGlyphs">Shanxi</text>
<text x="749.3" y="425.5" textLength="39.1" lengthAdjust="spacingAndGlyphs">Hebei</text>
<text x="775.3" y="480.6" textLength="71.1" lengthAdjust="spacingAndGlyphs">Shandong</text>
<text x="796.7" y="503.1" textLength="37.8" lengthAdjust="spacingAndGlyphs">(n=2)</text>
<text x="713.3" y="528.0" textLength="44.3" lengthAdjust="spacingAndGlyphs">Henan</text>
<text x="715.0" y="549.8" textLength="48.5" lengthAdjust="spacingAndGlyphs">(n=14 )</text>
<text x="839.3" y="568.2" textLength="54.4" lengthAdjust="spacingAndGlyphs">Jiangsu</text>
<text x="885.4" y="588.5" textLength="65.6" lengthAdjust="spacingAndGlyphs">Shanghai</text>
<text x="783.2" y="598.3" textLength="40.2" lengthAdjust="spacingAndGlyphs">Anhui</text>
<text x="786.0" y="619.1" textLength="39.1" lengthAdjust="spacingAndGlyphs">(n=2)</text>
<text x="702.4" y="604.4" textLength="39.8" lengthAdjust="spacingAndGlyphs">Hubei</text>
<text x="705.9" y="626.4" textLength="39.1" lengthAdjust="spacingAndGlyphs">(n=2)</text>
<text x="827.8" y="639.0" textLength="61.6" lengthAdjust="spacingAndGlyphs">Zhejiang</text>
<text x="838.5" y="659.6" textLength="49.7" lengthAdjust="spacingAndGlyphs">(n=18 )</text>
<text x="746.2" y="676.1" textLength="49.7" lengthAdjust="spacingAndGlyphs">Jiangxi</text>
<text x="756.1" y="697.4" textLength="38.6" lengthAdjust="spacingAndGlyphs">(n=6)</text>
<text x="680.6" y="687.8" textLength="45.0" lengthAdjust="spacingAndGlyphs">Hunan</text>
<text x="687.7" y="709.1" textLength="38.6" lengthAdjust="spacingAndGlyphs">(n=6)</text>
<text x="797.1" y="735.3" textLength="42.6" lengthAdjust="spacingAndGlyphs">Fujian</text>
<text x="797.1" y="756.2" textLength="39.0" lengthAdjust="spacingAndGlyphs">(n=9)</text>
<text x="884.7" y="743.1" textLength="46.1" lengthAdjust="spacingAndGlyphs">Taiwan</text>
<text x="682.4" y="794.7" textLength="81.2" lengthAdjust="spacingAndGlyphs">Guangdong</text>
<text x="709.2" y="816.5" textLength="37.9" lengthAdjust="spacingAndGlyphs">(n=5)</text>
<text x="759.4" y="820.7" textLength="74.1" lengthAdjust="spacingAndGlyphs">HongKong</text>
<text x="725.8" y="842.0" textLength="43.8" lengthAdjust="spacingAndGlyphs">Macao</text>
<text x="659.5" y="887.7" textLength="47.3" lengthAdjust="spacingAndGlyphs">Hainan</text>
<text x="776.9" y="375.8" textLength="46.7" lengthAdjust="spacingAndGlyphs">Beijing</text>
<text x="834.8" y="377.4" textLength="37.8" lengthAdjust="spacingAndGlyphs">(n=1)</text>
<text x="808.3" y="408.7" textLength="44.2" lengthAdjust="spacingAndGlyphs">Tianjin</text>
<text x="862.2" y="408.7" textLength="37.8" lengthAdjust="spacingAndGlyphs">(n=1)</text>
<text x="884.7" y="355.3" textLength="59.6" lengthAdjust="spacingAndGlyphs">Liaoning</text>
<text x="899.2" y="378.2" textLength="38.6" lengthAdjust="spacingAndGlyphs">(n=9)</text>
<text x="959.5" y="294.3" textLength="29.1" lengthAdjust="spacingAndGlyphs">Jilin</text>
<text x="964.8" y="233.7" textLength="87.5" lengthAdjust="spacingAndGlyphs">Heilongjiang</text>
<text x="17.9" y="81.2" textLength="16.5" lengthAdjust="spacingAndGlyphs" font-size="17.5" stroke-width="0.3">(a)</text>
</g>
<path d="M1282.6 334.5 L1336.1 334.5 L1362.8 334.5 L1389.6 334.5 L1416.3 334.5 L1443.0 334.5 L1469.8 334.5 L1496.5 334.5 L1523.3 334.5 L1550.0 334.5 L1576.7 334.5 L1603.5 334.5 L1630.2 334.5 L1657.0 318.9 L1683.7 334.5 L1710.4 334.5 L1737.2 326.7 L1763.9 276.4 L1790.7 247.9 L1817.4 269.7 L1844.1 246.0 L1870.9 172.5 L1897.6 59.1" fill="none" stroke="#5b50f0" stroke-width="2.9" stroke-linejoin="round"/>
<g stroke="#000" stroke-width="2.9" fill="none" stroke-linecap="butt">
<path d="M1256.1 54.7 V336.9"/>
<path d="M1243.9 335.5 H1925.8"/>
<path d="M1243.9 279.6 H1256.1"/>
<path d="M1243.9 223.8 H1256.1"/>
<path d="M1243.9 167.9 H1256.1"/>
<path d="M1243.9 112.1 H1256.1"/>
<path d="M1243.9 56.2 H1256.1"/>
<path d="M1282.6 335.5 V347.3"/>
<path d="M1336.1 335.5 V347.3"/>
<path d="M1389.6 335.5 V347.3"/>
<path d="M1443.0 335.5 V347.3"/>
<path d="M1496.5 335.5 V347.3"/>
<path d="M1550.0 335.5 V347.3"/>
<path d="M1603.5 335.5 V347.3"/>
<path d="M1657.0 335.5 V347.3"/>
<path d="M1710.4 335.5 V347.3"/>
<path d="M1763.9 335.5 V347.3"/>
<path d="M1817.4 335.5 V347.3"/>
<path d="M1870.9 335.5 V347.3"/>
<path d="M1924.4 335.5 V347.3"/>
</g>
<g fill="none" stroke="#5b50f0" stroke-width="1.2" stroke-linejoin="miter">
<path d="M1282.6 330.5 L1287.9 340.9 L1277.3 340.9 Z"/>
<path d="M1336.1 330.5 L1341.4 340.9 L1330.8 340.9 Z"/>
<path d="M1362.8 330.5 L1368.1 340.9 L1357.5 340.9 Z"/>
<path d="M1389.6 330.5 L1394.9 340.9 L1384.3 340.9 Z"/>
<path d="M1416.3 330.5 L1421.6 340.9 L1411.0 340.9 Z"/>
<path d="M1443.0 330.5 L1448.3 340.9 L1437.7 340.9 Z"/>
<path d="M1469.8 330.5 L1475.1 340.9 L1464.5 340.9 Z"/>
<path d="M1496.5 330.5 L1501.8 340.9 L1491.2 340.9 Z"/>
<path d="M1523.3 330.5 L1528.6 340.9 L1518.0 340.9 Z"/>
<path d="M1550.0 330.5 L1555.3 340.9 L1544.7 340.9 Z"/>
<path d="M1576.7 330.5 L1582.0 340.9 L1571.4 340.9 Z"/>
<path d="M1603.5 330.5 L1608.8 340.9 L1598.2 340.9 Z"/>
<path d="M1630.2 330.5 L1635.5 340.9 L1624.9 340.9 Z"/>
<path d="M1657.0 314.9 L1662.3 325.3 L1651.7 325.3 Z"/>
<path d="M1683.7 330.5 L1689.0 340.9 L1678.4 340.9 Z"/>
<path d="M1710.4 330.5 L1715.7 340.9 L1705.1 340.9 Z"/>
<path d="M1737.2 322.7 L1742.5 333.1 L1731.9 333.1 Z"/>
<path d="M1763.9 272.4 L1769.2 282.8 L1758.6 282.8 Z"/>
<path d="M1790.7 243.9 L1796.0 254.3 L1785.4 254.3 Z"/>
<path d="M1817.4 265.7 L1822.7 276.1 L1812.1 276.1 Z"/>
<path d="M1844.1 242.0 L1849.4 252.4 L1838.8 252.4 Z"/>
<path d="M1870.9 168.5 L1876.2 178.9 L1865.6 178.9 Z"/>
<path d="M1897.6 55.1 L1902.9 65.5 L1892.3 65.5 Z"/>
</g>
<g font-family="'Liberation Sans',Arial,sans-serif" font-weight="bold" fill="#000">
<g font-size="19.4" text-anchor="middle">
<text x="1282.6" y="369.9">2000</text>
<text x="1336.1" y="369.9">2002</text>
<text x="1389.6" y="369.9">2004</text>
<text x="1443.0" y="369.9">2006</text>
<text x="1496.5" y="369.9">2008</text>
<text x="1550.0" y="369.9">2010</text>
<text x="1603.5" y="369.9">2012</text>
<text x="1657.0" y="369.9">2014</text>
<text x="1710.4" y="369.9">2016</text>
<text x="1763.9" y="369.9">2018</text>
<text x="1817.4" y="369.9">2020</text>
<text x="1870.9" y="369.9">2022</text>
<text x="1924.4" y="369.9">2024</text>
</g><g font-size="19.4" text-anchor="end">
<text x="1240.4" y="342.5">0</text>
<text x="1240.4" y="286.6">2</text>
<text x="1240.4" y="230.8">4</text>
<text x="1240.4" y="174.9">6</text>
<text x="1240.4" y="119.1">8</text>
<text x="1240.4" y="63.2">10</text>
</g>
<text x="1589.8" y="21.2" font-size="19.3" text-anchor="middle">Polymyxin-resistant CRKP</text>
<g font-size="14.2" fill="#f0191f">
<text x="1909.9" y="68.0">9.86%</text>
<text x="1881.8" y="180.2">5.80%</text>
<text x="1855.5" y="254.1">3.17%</text>
<text x="1773.9" y="238.8">3.10%</text>
<text x="1724.6" y="267.7">2.08%</text>
<text x="1802.4" y="294.5">2.32%</text>
<text x="1638.7" y="310.2">0.56%</text>
<text x="1701.2" y="312.4">0.28%</text>
</g></g>
<text transform="translate(1204.5 197.5) rotate(-90)" text-anchor="middle" font-family="'Liberation Sans',Arial,sans-serif" font-size="20.5" fill="#000" stroke="#000" stroke-width="0.45">Prevalence (%)</text>
<g stroke="#fff" stroke-width="0.9" stroke-linejoin="round"><path d="M1320.00 610.30 L1320.00 485.10 A125.20 125.20 0 0 1 1327.02 485.30 Z" fill="#e4f4fd"/><path d="M1320.00 610.30 L1327.02 485.30 A125.20 125.20 0 0 1 1334.02 485.89 Z" fill="#c3e8fa"/><path d="M1320.00 610.30 L1334.02 485.89 A125.20 125.20 0 0 1 1413.35 526.87 Z" fill="#92d6f7"/><path d="M1320.00 610.30 L1413.35 526.87 A125.20 125.20 0 0 1 1438.17 568.95 Z" fill="#76c4f4"/><path d="M1320.00 610.30 L1438.17 568.95 A125.20 125.20 0 0 1 1429.58 670.86 Z" fill="#57aef6"/><path d="M1320.00 610.30 L1429.58 670.86 A125.20 125.20 0 0 1 1340.97 733.73 Z" fill="#4897e2"/><path d="M1320.00 610.30 L1340.97 733.73 A125.20 125.20 0 0 1 1204.33 562.39 Z" fill="#3b78b0"/><path d="M1320.00 610.30 L1204.33 562.39 A125.20 125.20 0 0 1 1320.00 485.10 Z" fill="#29557b"/></g>
<g font-family="'Liberation Sans',Arial,sans-serif" font-size="17.35" fill="#000" stroke="#000" stroke-width="0.25"><rect x="1463.5" y="494.2" width="21.4" height="9.4" fill="#e4f4fd" stroke="none"/><text x="1498.2" y="505.6">2014</text><rect x="1463.5" y="516.7" width="21.4" height="9.4" fill="#c3e8fa" stroke="none"/><text x="1498.2" y="528.1">2017</text><rect x="1463.5" y="539.2" width="21.4" height="9.4" fill="#92d6f7" stroke="none"/><text x="1498.2" y="550.6">2018</text><rect x="1463.5" y="561.7" width="21.4" height="9.4" fill="#76c4f4" stroke="none"/><text x="1498.2" y="573.1">2019</text><rect x="1463.5" y="584.2" width="21.4" height="9.4" fill="#57aef6" stroke="none"/><text x="1498.2" y="595.6">2020</text><rect x="1463.5" y="606.7" width="21.4" height="9.4" fill="#4897e2" stroke="none"/><text x="1498.2" y="618.1">2021</text><rect x="1463.5" y="629.2" width="21.4" height="9.4" fill="#3b78b0" stroke="none"/><text x="1498.2" y="640.6">2022</text><rect x="1463.5" y="651.7" width="21.4" height="9.4" fill="#29557b" stroke="none"/><text x="1498.2" y="663.1">2023</text></g>
<g font-family="'Liberation Sans',Arial,sans-serif" font-size="14.4" fill="#000" text-anchor="middle"><text x="1370.0" y="513.9">13</text><text x="1419.1" y="557.5">7</text><text x="1430.6" y="622.4">15</text><text x="1386.7" y="706.9">16</text><text x="1224.5" y="676.6">38</text><text x="1252.7" y="524.5">21</text></g>
<g stroke="#fff" stroke-width="0.9" stroke-linejoin="round"><path d="M1707.90 610.30 L1707.90 485.10 A125.20 125.20 0 1 1 1641.29 504.29 Z" fill="#92d6f7"/><path d="M1707.90 610.30 L1641.29 504.29 A125.20 125.20 0 0 1 1666.55 492.13 Z" fill="#f65621"/><path d="M1707.90 610.30 L1666.55 492.13 A125.20 125.20 0 0 1 1680.04 488.24 Z" fill="#dc74ea"/><path d="M1707.90 610.30 L1680.04 488.24 A125.20 125.20 0 0 1 1686.93 486.87 Z" fill="#4b6ee9"/><path d="M1707.90 610.30 L1686.93 486.87 A125.20 125.20 0 0 1 1700.88 485.30 Z" fill="#70fb88"/><path d="M1707.90 610.30 L1700.88 485.30 A125.20 125.20 0 0 1 1707.90 485.10 Z" fill="#8000ff"/></g>
<g font-family="'Liberation Sans',Arial,sans-serif" font-size="17.35" fill="#000" stroke="#000" stroke-width="0.25"><rect x="1851.2" y="494.2" width="21.4" height="9.4" fill="#92d6f7" stroke="none"/><text x="1886.1" y="505.6">KPC-2</text><rect x="1851.2" y="517.2" width="21.4" height="9.4" fill="#f65621" stroke="none"/><text x="1886.1" y="528.6">NDM-5</text><rect x="1851.2" y="540.1" width="21.4" height="9.4" fill="#dc74ea" stroke="none"/><text x="1886.1" y="551.5">KPC-2/NDM-1</text><rect x="1851.2" y="563.1" width="21.4" height="9.4" fill="#4b6ee9" stroke="none"/><text x="1886.1" y="574.5">KPC-2/NDM-4</text><rect x="1851.2" y="586.0" width="21.4" height="9.4" fill="#70fb88" stroke="none"/><text x="1886.1" y="597.4">OXA-232</text><rect x="1851.2" y="609.0" width="21.4" height="9.4" fill="#8000ff" stroke="none"/><text x="1886.1" y="620.4">Unknown</text></g>
<g font-family="'Liberation Sans',Arial,sans-serif" font-size="14.4" fill="#000" text-anchor="middle"><text x="1656.1" y="512.4">4</text><text x="1735.8" y="723.9">102</text></g>
<g stroke="#fff" stroke-width="0.9" stroke-linejoin="round"><path d="M1320.20 930.10 L1320.20 804.80 A125.30 125.30 0 1 1 1201.93 888.72 Z" fill="#92d6f7"/><path d="M1320.20 930.10 L1201.93 888.72 A125.30 125.30 0 0 1 1236.71 836.67 Z" fill="#70fbab"/><path d="M1320.20 930.10 L1236.71 836.67 A125.30 125.30 0 0 1 1253.54 824.01 Z" fill="#f568bb"/><path d="M1320.20 930.10 L1253.54 824.01 A125.30 125.30 0 0 1 1265.83 817.21 Z" fill="#efdc3d"/><path d="M1320.20 930.10 L1265.83 817.21 A125.30 125.30 0 0 1 1278.82 811.83 Z" fill="#e8284f"/><path d="M1320.20 930.10 L1278.82 811.83 A125.30 125.30 0 0 1 1292.32 807.94 Z" fill="#8070f8"/><path d="M1320.20 930.10 L1292.32 807.94 A125.30 125.30 0 0 1 1299.21 806.57 Z" fill="#f94c1a"/><path d="M1320.20 930.10 L1299.21 806.57 A125.30 125.30 0 0 1 1306.17 805.59 Z" fill="#1a00ff"/><path d="M1320.20 930.10 L1306.17 805.59 A125.30 125.30 0 0 1 1313.17 805.00 Z" fill="#3cff00"/><path d="M1320.20 930.10 L1313.17 805.00 A125.30 125.30 0 0 1 1320.20 804.80 Z" fill="#5dc0a9"/></g>
<g font-family="'Liberation Sans',Arial,sans-serif" font-size="17.35" fill="#000" stroke="#000" stroke-width="0.25"><rect x="1464.0" y="814.4" width="21.4" height="9.4" fill="#92d6f7" stroke="none"/><text x="1498.4" y="825.8">ST11</text><rect x="1464.0" y="836.8" width="21.4" height="9.4" fill="#70fbab" stroke="none"/><text x="1498.4" y="848.2">ST15</text><rect x="1464.0" y="859.1" width="21.4" height="9.4" fill="#f568bb" stroke="none"/><text x="1498.4" y="870.5">ST395</text><rect x="1464.0" y="881.5" width="21.4" height="9.4" fill="#efdc3d" stroke="none"/><text x="1498.4" y="892.9">ST2237</text><rect x="1464.0" y="903.9" width="21.4" height="9.4" fill="#e8284f" stroke="none"/><text x="1498.4" y="915.3">ST34</text><rect x="1464.0" y="926.2" width="21.4" height="9.4" fill="#8070f8" stroke="none"/><text x="1498.4" y="937.6">ST76</text><rect x="1464.0" y="948.6" width="21.4" height="9.4" fill="#f94c1a" stroke="none"/><text x="1498.4" y="960.0">ST17</text><rect x="1464.0" y="971.0" width="21.4" height="9.4" fill="#1a00ff" stroke="none"/><text x="1498.4" y="982.4">ST22</text><rect x="1464.0" y="993.4" width="21.4" height="9.4" fill="#3cff00" stroke="none"/><text x="1498.4" y="1004.8">ST437</text><rect x="1464.0" y="1015.7" width="21.4" height="9.4" fill="#5dc0a9" stroke="none"/><text x="1498.4" y="1027.1">ST709</text></g>
<g font-family="'Liberation Sans',Arial,sans-serif" font-size="14.4" fill="#000" text-anchor="middle"><text x="1250.2" y="842.3">3</text><text x="1222.9" y="873.7">9</text><text x="1393.2" y="1019.7">90</text></g>
<g stroke="#fff" stroke-width="0.9" stroke-linejoin="round"><path d="M1707.00 930.10 L1707.00 804.80 A125.30 125.30 0 1 1 1692.97 1054.61 Z" fill="#92d6f7"/><path d="M1707.00 930.10 L1692.97 1054.61 A125.30 125.30 0 0 1 1584.84 957.98 Z" fill="#80fdb9"/><path d="M1707.00 930.10 L1584.84 957.98 A125.30 125.30 0 0 1 1586.60 895.41 Z" fill="#ea86f8"/><path d="M1707.00 930.10 L1586.60 895.41 A125.30 125.30 0 0 1 1600.91 863.44 Z" fill="#ef7c70"/><path d="M1707.00 930.10 L1600.91 863.44 A125.30 125.30 0 0 1 1618.40 841.50 Z" fill="#efdc3d"/><path d="M1707.00 930.10 L1618.40 841.50 A125.30 125.30 0 0 1 1640.34 824.01 Z" fill="#50ec38"/><path d="M1707.00 930.10 L1640.34 824.01 A125.30 125.30 0 0 1 1659.05 814.34 Z" fill="#5dc0a9"/><path d="M1707.00 930.10 L1659.05 814.34 A125.30 125.30 0 0 1 1679.12 807.94 Z" fill="#4b6ee9"/><path d="M1707.00 930.10 L1679.12 807.94 A125.30 125.30 0 0 1 1692.97 805.59 Z" fill="#b85c22"/><path d="M1707.00 930.10 L1692.97 805.59 A125.30 125.30 0 0 1 1699.97 805.00 Z" fill="#1a00ff"/><path d="M1707.00 930.10 L1699.97 805.00 A125.30 125.30 0 0 1 1707.00 804.80 Z" fill="#a010ff"/></g>
<g font-family="'Liberation Sans',Arial,sans-serif" font-size="17.35" fill="#000" stroke="#000" stroke-width="0.25"><rect x="1851.2" y="814.4" width="21.4" height="9.4" fill="#92d6f7" stroke="none"/><text x="1886.2" y="825.8">KL64</text><rect x="1851.2" y="836.5" width="21.4" height="9.4" fill="#80fdb9" stroke="none"/><text x="1886.2" y="847.9">KL47</text><rect x="1851.2" y="858.5" width="21.4" height="9.4" fill="#ea86f8" stroke="none"/><text x="1886.2" y="869.9">KL19</text><rect x="1851.2" y="880.6" width="21.4" height="9.4" fill="#ef7c70" stroke="none"/><text x="1886.2" y="892.0">KL25</text><rect x="1851.2" y="902.7" width="21.4" height="9.4" fill="#efdc3d" stroke="none"/><text x="1886.2" y="914.1">KL10</text><rect x="1851.2" y="924.8" width="21.4" height="9.4" fill="#50ec38" stroke="none"/><text x="1886.2" y="936.1">KL30</text><rect x="1851.2" y="946.8" width="21.4" height="9.4" fill="#5dc0a9" stroke="none"/><text x="1886.2" y="958.2">KL112</text><rect x="1851.2" y="968.9" width="21.4" height="9.4" fill="#4b6ee9" stroke="none"/><text x="1886.2" y="980.3">KL2</text><rect x="1851.2" y="991.0" width="21.4" height="9.4" fill="#b85c22" stroke="none"/><text x="1886.2" y="1002.4">KL9</text><rect x="1851.2" y="1013.0" width="21.4" height="9.4" fill="#1a00ff" stroke="none"/><text x="1886.2" y="1024.4">KL24</text><rect x="1851.2" y="1035.1" width="21.4" height="9.4" fill="#a010ff" stroke="none"/><text x="1886.2" y="1046.5">KL36</text></g>
<g font-family="'Liberation Sans',Arial,sans-serif" font-size="14.4" fill="#000" text-anchor="middle"><text x="1816.8" y="941.6">58</text><text x="1627.7" y="1010.4">22</text><text x="1592.4" y="931.5">9</text><text x="1605.0" y="889.6">5</text><text x="1619.4" y="864.8">4</text><text x="1637.3" y="847.4">4</text><text x="1655.9" y="834.8">3</text><text x="1673.2" y="826.8">3</text></g>
<g font-family="'Liberation Sans',Arial,sans-serif" font-size="17.4" fill="#000" text-anchor="middle">
<text transform="translate(1319.7 458.2) scale(1 1.07)" stroke="#000" stroke-width="0.2">Isolation time</text>
<text transform="translate(1706.7 458.2) scale(1 1.07)" stroke="#000" stroke-width="0.2">Carbapenemase</text>
<text transform="translate(1319.3 778.0) scale(1 1.07)" stroke="#000" stroke-width="0.2">ST</text>
<text transform="translate(1707.0 778.0) scale(1 1.07)" stroke="#000" stroke-width="0.2">KL</text>
</g>
<g font-family="'Liberation Sans',Arial,sans-serif" font-size="17.5" font-weight="bold" fill="#111" stroke="#111" stroke-width="0.25">
<text x="1180.6" y="13.0" textLength="18.3" lengthAdjust="spacingAndGlyphs">(b)</text>
<text x="1180.6" y="457.3" textLength="17.3" lengthAdjust="spacingAndGlyphs">(c)</text>
<text x="1586.7" y="457.3" textLength="18.1" lengthAdjust="spacingAndGlyphs">(d)</text>
<text x="1179.9" y="777.4" textLength="17.9" lengthAdjust="spacingAndGlyphs">(e)</text>
<text x="1586.5" y="777.4" textLength="14.3" lengthAdjust="spacingAndGlyphs">(f)</text>
</g>
</svg></body></html>
